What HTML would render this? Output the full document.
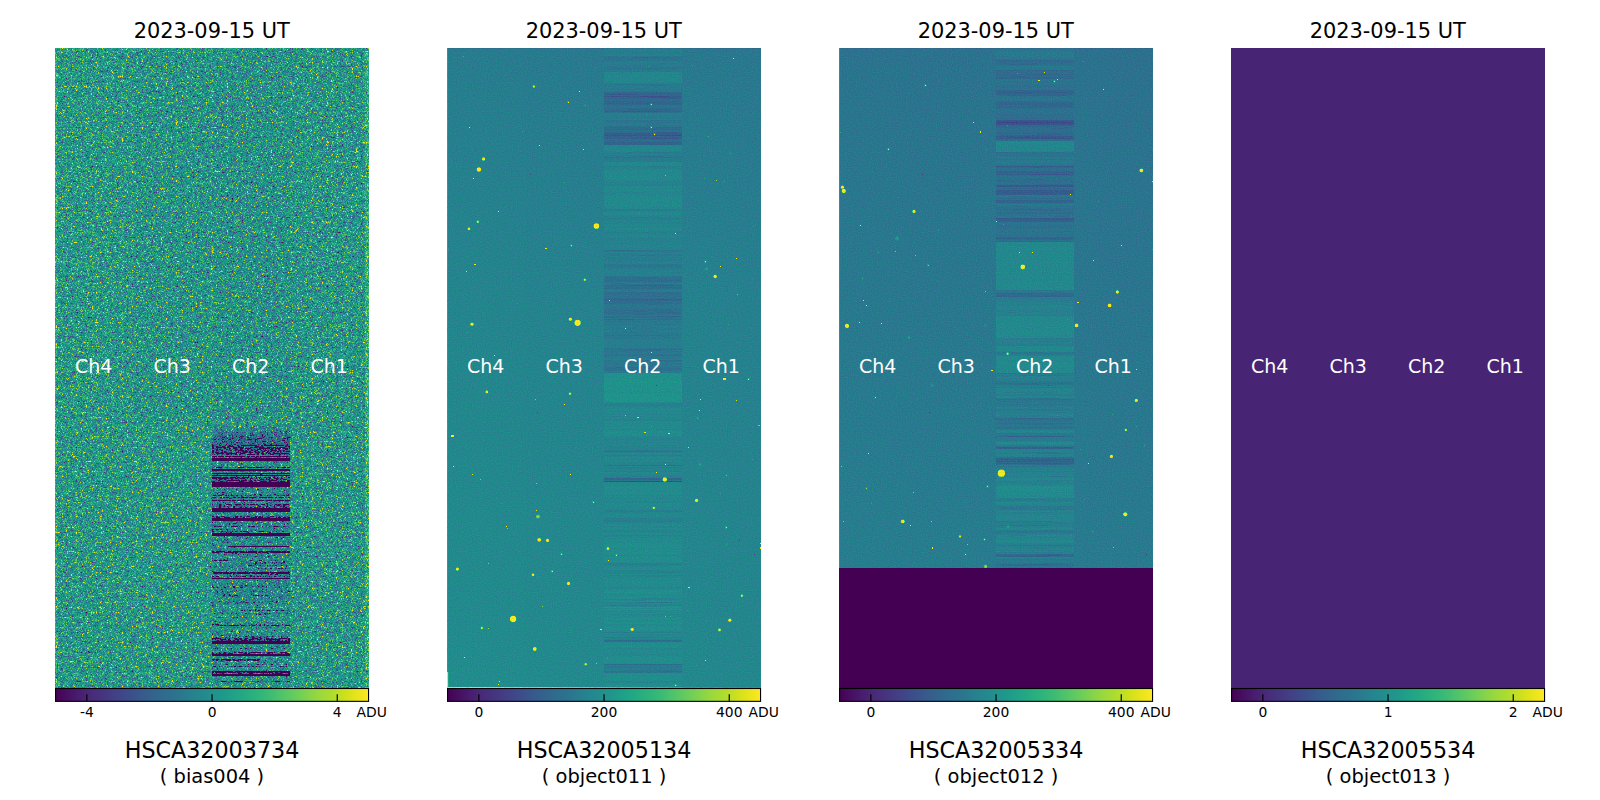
<!DOCTYPE html>
<html lang="en"><head><meta charset="utf-8"><title>HSC quick look</title>
<style>
html,body{margin:0;padding:0;background:#fff;overflow:hidden}
svg{display:block}
text{font-family:"DejaVu Sans","Liberation Sans",sans-serif;fill:#000}
.ti{font-size:20.9px;text-anchor:middle}
.ch{font-size:19px;text-anchor:middle;fill:#fff}
.tk{font-size:13.89px;text-anchor:middle}
.un{font-size:13.89px;text-anchor:start}
.l1{font-size:22.22px;text-anchor:middle}
.l2{font-size:19.44px;text-anchor:middle}
</style></head><body>
<svg width="1600" height="800" viewBox="0 0 1600 800">
<defs>
<filter id="f1" filterUnits="userSpaceOnUse" x="55" y="48" width="314" height="640" color-interpolation-filters="sRGB"><feTurbulence type="fractalNoise" baseFrequency="0.8" numOctaves="1" seed="7" result="t"/><feTurbulence type="fractalNoise" baseFrequency="0.42 0.86" numOctaves="1" seed="5" result="t2"/><feTurbulence type="fractalNoise" baseFrequency="0.41" numOctaves="1" seed="13" result="t3"/><feTurbulence type="fractalNoise" baseFrequency="0.2" numOctaves="1" seed="17" result="t4"/><feColorMatrix in="t" type="matrix" values="1 0 0 0 0  1 0 0 0 0  1 0 0 0 0  0 0 0 0 1" result="nA"/><feColorMatrix in="t3" type="matrix" values="1 0 0 0 0  1 0 0 0 0  1 0 0 0 0  0 0 0 0 1" result="nB"/><feColorMatrix in="t4" type="matrix" values="1 0 0 0 0  1 0 0 0 0  1 0 0 0 0  0 0 0 0 1" result="nC"/><feComposite in="nA" in2="nB" operator="arithmetic" k1="0" k2="1" k3="0.55" k4="-0.275" result="nAB"/><feComposite in="nAB" in2="nC" operator="arithmetic" k1="0" k2="1" k3="0.3" k4="-0.15" result="nv0"/><feComponentTransfer in="nv0" result="nv"><feFuncR type="table" tableValues="0.0000 0.0000 0.0000 0.0000 0.0040 0.0459 0.0857 0.1235 0.1595 0.1938 0.2266 0.2579 0.2880 0.3170 0.3449 0.3721 0.3985 0.4244 0.4498 0.4750 0.5000 0.5251 0.5506 0.5771 0.6050 0.6348 0.6669 0.7018 0.7400 0.7820 0.8281 0.8790 0.9350 0.9966 1.0000 1.0000 1.0000 1.0000 1.0000 1.0000 1.0000"/><feFuncG type="table" tableValues="0.0000 0.0000 0.0000 0.0000 0.0040 0.0459 0.0857 0.1235 0.1595 0.1938 0.2266 0.2579 0.2880 0.3170 0.3449 0.3721 0.3985 0.4244 0.4498 0.4750 0.5000 0.5251 0.5506 0.5771 0.6050 0.6348 0.6669 0.7018 0.7400 0.7820 0.8281 0.8790 0.9350 0.9966 1.0000 1.0000 1.0000 1.0000 1.0000 1.0000 1.0000"/><feFuncB type="table" tableValues="0.0000 0.0000 0.0000 0.0000 0.0040 0.0459 0.0857 0.1235 0.1595 0.1938 0.2266 0.2579 0.2880 0.3170 0.3449 0.3721 0.3985 0.4244 0.4498 0.4750 0.5000 0.5251 0.5506 0.5771 0.6050 0.6348 0.6669 0.7018 0.7400 0.7820 0.8281 0.8790 0.9350 0.9966 1.0000 1.0000 1.0000 1.0000 1.0000 1.0000 1.0000"/></feComponentTransfer><feColorMatrix in="t2" type="matrix" values="0 1 0 0 0  0 1 0 0 0  0 1 0 0 0  0 0 0 0 1" result="nm"/><feColorMatrix in="SourceGraphic" type="matrix" values="1 0 0 0 0  1 0 0 0 0  1 0 0 0 0  0 0 0 0 1" result="sv"/><feColorMatrix in="SourceGraphic" type="matrix" values="0 1 0 0 0  0 1 0 0 0  0 1 0 0 0  0 0 0 0 1" result="sm"/><feComposite in="sv" in2="nv" operator="arithmetic" k1="0" k2="2" k3="1.02" k4="-1.51" result="val"/><feComposite in="sm" in2="nm" operator="arithmetic" k1="0" k2="1" k3="1" k4="-1" result="a"/><feComponentTransfer in="a" result="nmask"><feFuncR type="linear" slope="-255" intercept="1"/><feFuncG type="linear" slope="-255" intercept="1"/><feFuncB type="linear" slope="-255" intercept="1"/></feComponentTransfer><feComposite in="val" in2="nmask" operator="arithmetic" k1="1" k2="0" k3="0" k4="0"/><feComponentTransfer><feFuncR type="table" tableValues="0.2670 0.2726 0.2770 0.2803 0.2823 0.2832 0.2829 0.2814 0.2788 0.2752 0.2706 0.2651 0.2590 0.2522 0.2450 0.2374 0.2297 0.2220 0.2143 0.2068 0.1994 0.1924 0.1856 0.1790 0.1727 0.1666 0.1607 0.1548 0.1490 0.1433 0.1378 0.1324 0.1276 0.1235 0.1206 0.1194 0.1206 0.1248 0.1323 0.1433 0.1579 0.1757 0.1966 0.2201 0.2461 0.2741 0.3041 0.3359 0.3692 0.4040 0.4401 0.4775 0.5160 0.5555 0.5958 0.6369 0.6785 0.7204 0.7624 0.8042 0.8456 0.8863 0.9261 0.9649 0.9932"/><feFuncG type="table" tableValues="0.0049 0.0256 0.0503 0.0734 0.0950 0.1157 0.1359 0.1558 0.1755 0.1949 0.2141 0.2330 0.2515 0.2698 0.2877 0.3052 0.3224 0.3392 0.3556 0.3718 0.3876 0.4032 0.4186 0.4338 0.4488 0.4637 0.4785 0.4933 0.5081 0.5228 0.5375 0.5522 0.5669 0.5817 0.5964 0.6111 0.6258 0.6405 0.6550 0.6695 0.6838 0.6979 0.7118 0.7255 0.7389 0.7520 0.7647 0.7770 0.7889 0.8003 0.8111 0.8214 0.8312 0.8403 0.8487 0.8565 0.8637 0.8703 0.8764 0.8820 0.8873 0.8924 0.8973 0.9023 0.9062"/><feFuncB type="table" tableValues="0.3294 0.3531 0.3757 0.3972 0.4173 0.4361 0.4534 0.4692 0.4834 0.4960 0.5071 0.5166 0.5247 0.5316 0.5373 0.5419 0.5457 0.5488 0.5512 0.5531 0.5546 0.5558 0.5568 0.5574 0.5579 0.5581 0.5581 0.5578 0.5573 0.5563 0.5549 0.5530 0.5506 0.5474 0.5436 0.5390 0.5335 0.5271 0.5197 0.5112 0.5017 0.4910 0.4792 0.4662 0.4520 0.4366 0.4199 0.4020 0.3829 0.3626 0.3410 0.3182 0.2943 0.2693 0.2433 0.2166 0.1895 0.1626 0.1371 0.1150 0.0997 0.0954 0.1041 0.1239 0.1439"/><feFuncA type="linear" slope="0" intercept="1"/></feComponentTransfer></filter>
<filter id="f2" filterUnits="userSpaceOnUse" x="447" y="48" width="314" height="640" color-interpolation-filters="sRGB"><feTurbulence type="fractalNoise" baseFrequency="0.8" numOctaves="1" seed="11"/><feColorMatrix type="matrix" values="1 0 0 0 0  1 0 0 0 0  1 0 0 0 0  0 0 0 0 1" result="n"/><feComposite in="SourceGraphic" in2="n" operator="arithmetic" k1="0" k2="1" k3="0.2" k4="-0.1"/><feComponentTransfer><feFuncR type="table" tableValues="0.2670 0.2726 0.2770 0.2803 0.2823 0.2832 0.2829 0.2814 0.2788 0.2752 0.2706 0.2651 0.2590 0.2522 0.2450 0.2374 0.2297 0.2220 0.2143 0.2068 0.1994 0.1924 0.1856 0.1790 0.1727 0.1666 0.1607 0.1548 0.1490 0.1433 0.1378 0.1324 0.1276 0.1235 0.1206 0.1194 0.1206 0.1248 0.1323 0.1433 0.1579 0.1757 0.1966 0.2201 0.2461 0.2741 0.3041 0.3359 0.3692 0.4040 0.4401 0.4775 0.5160 0.5555 0.5958 0.6369 0.6785 0.7204 0.7624 0.8042 0.8456 0.8863 0.9261 0.9649 0.9932"/><feFuncG type="table" tableValues="0.0049 0.0256 0.0503 0.0734 0.0950 0.1157 0.1359 0.1558 0.1755 0.1949 0.2141 0.2330 0.2515 0.2698 0.2877 0.3052 0.3224 0.3392 0.3556 0.3718 0.3876 0.4032 0.4186 0.4338 0.4488 0.4637 0.4785 0.4933 0.5081 0.5228 0.5375 0.5522 0.5669 0.5817 0.5964 0.6111 0.6258 0.6405 0.6550 0.6695 0.6838 0.6979 0.7118 0.7255 0.7389 0.7520 0.7647 0.7770 0.7889 0.8003 0.8111 0.8214 0.8312 0.8403 0.8487 0.8565 0.8637 0.8703 0.8764 0.8820 0.8873 0.8924 0.8973 0.9023 0.9062"/><feFuncB type="table" tableValues="0.3294 0.3531 0.3757 0.3972 0.4173 0.4361 0.4534 0.4692 0.4834 0.4960 0.5071 0.5166 0.5247 0.5316 0.5373 0.5419 0.5457 0.5488 0.5512 0.5531 0.5546 0.5558 0.5568 0.5574 0.5579 0.5581 0.5581 0.5578 0.5573 0.5563 0.5549 0.5530 0.5506 0.5474 0.5436 0.5390 0.5335 0.5271 0.5197 0.5112 0.5017 0.4910 0.4792 0.4662 0.4520 0.4366 0.4199 0.4020 0.3829 0.3626 0.3410 0.3182 0.2943 0.2693 0.2433 0.2166 0.1895 0.1626 0.1371 0.1150 0.0997 0.0954 0.1041 0.1239 0.1439"/><feFuncA type="linear" slope="0" intercept="1"/></feComponentTransfer></filter>
<filter id="f3" filterUnits="userSpaceOnUse" x="839" y="48" width="314" height="640" color-interpolation-filters="sRGB"><feTurbulence type="fractalNoise" baseFrequency="0.8" numOctaves="1" seed="23"/><feColorMatrix type="matrix" values="1 0 0 0 0  1 0 0 0 0  1 0 0 0 0  0 0 0 0 1" result="n"/><feComposite in="SourceGraphic" in2="n" operator="arithmetic" k1="0" k2="1" k3="0.2" k4="-0.1"/><feComponentTransfer><feFuncR type="table" tableValues="0.2670 0.2726 0.2770 0.2803 0.2823 0.2832 0.2829 0.2814 0.2788 0.2752 0.2706 0.2651 0.2590 0.2522 0.2450 0.2374 0.2297 0.2220 0.2143 0.2068 0.1994 0.1924 0.1856 0.1790 0.1727 0.1666 0.1607 0.1548 0.1490 0.1433 0.1378 0.1324 0.1276 0.1235 0.1206 0.1194 0.1206 0.1248 0.1323 0.1433 0.1579 0.1757 0.1966 0.2201 0.2461 0.2741 0.3041 0.3359 0.3692 0.4040 0.4401 0.4775 0.5160 0.5555 0.5958 0.6369 0.6785 0.7204 0.7624 0.8042 0.8456 0.8863 0.9261 0.9649 0.9932"/><feFuncG type="table" tableValues="0.0049 0.0256 0.0503 0.0734 0.0950 0.1157 0.1359 0.1558 0.1755 0.1949 0.2141 0.2330 0.2515 0.2698 0.2877 0.3052 0.3224 0.3392 0.3556 0.3718 0.3876 0.4032 0.4186 0.4338 0.4488 0.4637 0.4785 0.4933 0.5081 0.5228 0.5375 0.5522 0.5669 0.5817 0.5964 0.6111 0.6258 0.6405 0.6550 0.6695 0.6838 0.6979 0.7118 0.7255 0.7389 0.7520 0.7647 0.7770 0.7889 0.8003 0.8111 0.8214 0.8312 0.8403 0.8487 0.8565 0.8637 0.8703 0.8764 0.8820 0.8873 0.8924 0.8973 0.9023 0.9062"/><feFuncB type="table" tableValues="0.3294 0.3531 0.3757 0.3972 0.4173 0.4361 0.4534 0.4692 0.4834 0.4960 0.5071 0.5166 0.5247 0.5316 0.5373 0.5419 0.5457 0.5488 0.5512 0.5531 0.5546 0.5558 0.5568 0.5574 0.5579 0.5581 0.5581 0.5578 0.5573 0.5563 0.5549 0.5530 0.5506 0.5474 0.5436 0.5390 0.5335 0.5271 0.5197 0.5112 0.5017 0.4910 0.4792 0.4662 0.4520 0.4366 0.4199 0.4020 0.3829 0.3626 0.3410 0.3182 0.2943 0.2693 0.2433 0.2166 0.1895 0.1626 0.1371 0.1150 0.0997 0.0954 0.1041 0.1239 0.1439"/><feFuncA type="linear" slope="0" intercept="1"/></feComponentTransfer></filter>
<filter id="bl" x="-50%" y="-50%" width="200%" height="200%" color-interpolation-filters="sRGB"><feGaussianBlur stdDeviation="0.7"/></filter>
<linearGradient id="vg" x1="0" y1="0" x2="1" y2="0"><stop offset="0" stop-color="#440154"/><stop offset="0.03" stop-color="#470d60"/><stop offset="0.06" stop-color="#48186a"/><stop offset="0.09" stop-color="#482374"/><stop offset="0.12" stop-color="#472d7b"/><stop offset="0.16" stop-color="#453781"/><stop offset="0.19" stop-color="#424086"/><stop offset="0.22" stop-color="#3e4989"/><stop offset="0.25" stop-color="#3b528b"/><stop offset="0.28" stop-color="#375b8d"/><stop offset="0.31" stop-color="#33638d"/><stop offset="0.34" stop-color="#2f6b8e"/><stop offset="0.38" stop-color="#2c728e"/><stop offset="0.41" stop-color="#297a8e"/><stop offset="0.44" stop-color="#26828e"/><stop offset="0.47" stop-color="#23898e"/><stop offset="0.5" stop-color="#21918c"/><stop offset="0.53" stop-color="#1f988b"/><stop offset="0.56" stop-color="#1fa088"/><stop offset="0.59" stop-color="#22a785"/><stop offset="0.62" stop-color="#28ae80"/><stop offset="0.66" stop-color="#32b67a"/><stop offset="0.69" stop-color="#3fbc73"/><stop offset="0.72" stop-color="#4ec36b"/><stop offset="0.75" stop-color="#5ec962"/><stop offset="0.78" stop-color="#70cf57"/><stop offset="0.81" stop-color="#84d44b"/><stop offset="0.84" stop-color="#98d83e"/><stop offset="0.88" stop-color="#addc30"/><stop offset="0.91" stop-color="#c2df23"/><stop offset="0.94" stop-color="#d8e219"/><stop offset="0.97" stop-color="#ece51b"/><stop offset="1" stop-color="#fde725"/></linearGradient>
<linearGradient id="g2" x1="0" y1="0" x2="0" y2="1"><stop offset="0" stop-color="#696969"/><stop offset="0.12" stop-color="#6c6c6c"/><stop offset="0.25" stop-color="#6f6f6f"/><stop offset="0.38" stop-color="#727272"/><stop offset="0.5" stop-color="#747474"/><stop offset="0.62" stop-color="#757575"/><stop offset="0.75" stop-color="#777777"/><stop offset="0.88" stop-color="#787878"/><stop offset="1" stop-color="#7a7a7a"/></linearGradient>
<linearGradient id="g3" x1="0" y1="0" x2="0" y2="1"><stop offset="0" stop-color="#616161"/><stop offset="0.12" stop-color="#636363"/><stop offset="0.25" stop-color="#656565"/><stop offset="0.38" stop-color="#666666"/><stop offset="0.5" stop-color="#686868"/><stop offset="0.62" stop-color="#696969"/><stop offset="0.75" stop-color="#6b6b6b"/><stop offset="0.88" stop-color="#6c6c6c"/><stop offset="1" stop-color="#6e6e6e"/></linearGradient>
<linearGradient id="hx" x1="0" y1="0" x2="1" y2="0"><stop offset="0" stop-color="#000" stop-opacity="0"/><stop offset="1" stop-color="#000" stop-opacity="1"/></linearGradient>
<linearGradient id="brow" x1="0" y1="0" x2="1" y2="0"><stop offset="0" stop-color="#fff"/><stop offset="0.3" stop-color="#e6e6e6"/><stop offset="0.6" stop-color="#c0c0c0"/><stop offset="0.8" stop-color="#a0a0a0"/><stop offset="1" stop-color="#909090"/></linearGradient>
</defs>
<g filter="url(#f1)">
<rect x="55" y="48" width="314" height="640" fill="#c30000"/>
<rect x="55" y="48" width="2" height="640" fill="#cc0000"/><rect x="365" y="48" width="4" height="640" fill="#cf0000"/><rect x="211" y="48" width="1.5" height="372" fill="#cc0000"/><rect x="133.5" y="48" width="78" height="372" fill="#c10000"/><rect x="212.5" y="48" width="77.5" height="372" fill="#c00000"/><rect x="290" y="48" width="75" height="640" fill="#c20000"/>
<rect x="212" y="424" width="78" height="1" fill="#c22500"/><rect x="212" y="425" width="78" height="1" fill="#c13300"/><rect x="212" y="426" width="78" height="1" fill="#bf3a00"/><rect x="212" y="427" width="78" height="1" fill="#bd3f00"/><rect x="212" y="428" width="78" height="1" fill="#bb4300"/><rect x="212" y="429" width="78" height="1" fill="#ba4600"/><rect x="212" y="430" width="78" height="1" fill="#b84900"/><rect x="212" y="431" width="78" height="1" fill="#b64c00"/><rect x="212" y="432" width="78" height="1" fill="#b54e00"/><rect x="212" y="433" width="78" height="1" fill="#b35000"/><rect x="212" y="434" width="78" height="1" fill="#b15200"/><rect x="212" y="435" width="78" height="1" fill="#b05400"/><rect x="212" y="436" width="78" height="1" fill="#ae5600"/><rect x="212" y="437" width="78" height="1" fill="#ac5700"/><rect x="212" y="438" width="78" height="1" fill="#aa5900"/><rect x="212" y="439" width="78" height="1" fill="#aa5a00"/><rect x="212" y="440" width="78" height="1" fill="#aa5c00"/><rect x="212" y="441" width="78" height="1" fill="#aa5d00"/><rect x="212" y="442" width="78" height="1" fill="#aa5f00"/><rect x="212" y="443" width="78" height="1" fill="#aa6000"/><rect x="212" y="444" width="78" height="1" fill="#aa6100"/>
<rect x="212" y="445" width="78" height="160" fill="#bb4400"/><rect x="212" y="605" width="78" height="75" fill="#bf3900"/><rect x="212" y="452" width="78" height="1" fill="#b86200"/><rect x="217" y="454" width="49" height="1" fill="#b85c00"/><rect x="212" y="457" width="78" height="1" fill="#b85c00"/><rect x="212" y="460" width="78" height="1" fill="#b84c00"/><rect x="227" y="461" width="53" height="1" fill="#b84c00"/><rect x="249" y="462" width="41" height="1" fill="#b85c00"/><rect x="212" y="463" width="78" height="1" fill="#b85200"/><rect x="212" y="467" width="78" height="1" fill="#b86200"/><rect x="212" y="470" width="78" height="1" fill="#b85200"/><rect x="212" y="471" width="78" height="1" fill="#b86200"/><rect x="212" y="477" width="78" height="1" fill="#b85200"/><rect x="212" y="478" width="78" height="1" fill="#b85c00"/><rect x="255" y="480" width="23" height="1" fill="#b86800"/><rect x="212" y="482" width="78" height="1" fill="#b84c00"/><rect x="212" y="484" width="78" height="1" fill="#b85200"/><rect x="212" y="485" width="78" height="1" fill="#b85c00"/><rect x="244" y="486" width="27" height="1" fill="#b86200"/><rect x="213" y="493" width="28" height="1" fill="#b86200"/><rect x="212" y="494" width="78" height="1" fill="#b86200"/><rect x="228" y="495" width="15" height="1" fill="#b85200"/><rect x="216" y="497" width="20" height="1" fill="#b85700"/><rect x="250" y="498" width="26" height="1" fill="#b86800"/><rect x="226" y="505" width="54" height="1" fill="#b85200"/><rect x="252" y="506" width="32" height="1" fill="#b85200"/><rect x="212" y="507" width="78" height="1" fill="#b85c00"/><rect x="212" y="510" width="78" height="1" fill="#b84c00"/><rect x="212" y="511" width="78" height="1" fill="#b86800"/><rect x="212" y="512" width="78" height="1" fill="#b86200"/><rect x="212" y="516" width="78" height="1" fill="#b85c00"/><rect x="212" y="519" width="78" height="1" fill="#b85200"/><rect x="212" y="520" width="78" height="1" fill="#b85c00"/><rect x="245" y="521" width="33" height="1" fill="#b85200"/><rect x="212" y="523" width="78" height="1" fill="#b85200"/><rect x="212" y="528" width="78" height="1" fill="#b84c00"/><rect x="252" y="531" width="17" height="1" fill="#b84c00"/><rect x="246" y="534" width="26" height="1" fill="#b84c00"/><rect x="228" y="553" width="41" height="1" fill="#b86800"/><rect x="250" y="560" width="17" height="1" fill="#b86200"/><rect x="251" y="562" width="36" height="1" fill="#b86800"/><rect x="221" y="564" width="58" height="1" fill="#b84c00"/><rect x="212" y="571" width="78" height="1" fill="#b85c00"/><rect x="212" y="572" width="78" height="1" fill="#b85c00"/><rect x="249" y="574" width="25" height="1" fill="#b85200"/><rect x="212" y="575" width="78" height="1" fill="#b85200"/><rect x="242" y="580" width="32" height="1" fill="#b85200"/><rect x="250" y="589" width="16" height="1" fill="#b84c00"/><rect x="248" y="591" width="15" height="1" fill="#b85700"/><rect x="221" y="594" width="65" height="1" fill="#b85700"/><rect x="218" y="595" width="55" height="1" fill="#b86800"/><rect x="242" y="599" width="31" height="1" fill="#b85200"/><rect x="212" y="601" width="78" height="1" fill="#b85c00"/><rect x="234" y="602" width="49" height="1" fill="#b85200"/><rect x="240" y="610" width="44" height="1" fill="#b86800"/><rect x="212" y="613" width="78" height="1" fill="#b86200"/><rect x="212" y="624" width="78" height="1" fill="#b85c00"/><rect x="238" y="632" width="32" height="1" fill="#b85c00"/><rect x="212" y="634" width="78" height="1" fill="#b84c00"/><rect x="220" y="635" width="45" height="1" fill="#b86200"/><rect x="212" y="636" width="78" height="1" fill="#b86200"/><rect x="212" y="648" width="78" height="1" fill="#b86200"/><rect x="212" y="654" width="78" height="1" fill="#b85200"/><rect x="212" y="657" width="63" height="1" fill="#b86200"/><rect x="212" y="658" width="78" height="1" fill="#b84c00"/><rect x="212" y="664" width="78" height="1" fill="#b86200"/><rect x="239" y="668" width="45" height="1" fill="#b85c00"/><rect x="212" y="670" width="78" height="1" fill="#b85c00"/><rect x="221" y="672" width="29" height="1" fill="#b84c00"/><rect x="234" y="673" width="30" height="1" fill="#b85700"/><rect x="212" y="675" width="78" height="1" fill="#b86800"/><rect x="212" y="681" width="78" height="1" fill="#b86800"/>
<rect x="212" y="445" width="78" height="10" fill="#ae7f00" shape-rendering="crispEdges"/><rect x="212" y="455.5" width="78" height="1" fill="#a79700" shape-rendering="crispEdges"/><rect x="212" y="456.5" width="78" height="1.5" fill="#b26600" shape-rendering="crispEdges"/><rect x="212" y="458" width="78" height="2.5" fill="#a6ff00" shape-rendering="crispEdges"/><rect x="212" y="460.5" width="78" height="6" fill="#be3f00" shape-rendering="crispEdges"/><rect x="212" y="466.5" width="78" height="1.5" fill="#af7900" shape-rendering="crispEdges"/><rect x="212" y="468.5" width="78" height="2" fill="#a6ff00" shape-rendering="crispEdges"/><rect x="212" y="470.5" width="78" height="2" fill="#ba4c00" shape-rendering="crispEdges"/><rect x="212" y="472.5" width="78" height="1" fill="#a6ff00" shape-rendering="crispEdges"/><rect x="212" y="473.5" width="78" height="1" fill="#ba4c00" shape-rendering="crispEdges"/><rect x="212" y="474.5" width="78" height="1" fill="#a6ff00" shape-rendering="crispEdges"/><rect x="212" y="475.5" width="78" height="1.5" fill="#b85500" shape-rendering="crispEdges"/><rect x="212" y="477" width="35" height="1.5" fill="#a79700" shape-rendering="crispEdges"/><rect x="247" y="477" width="43" height="1.5" fill="#af7900" shape-rendering="crispEdges"/><rect x="212" y="479" width="78" height="2.5" fill="#af7900" shape-rendering="crispEdges"/><rect x="212" y="482" width="78" height="5" fill="#a6ff00" shape-rendering="crispEdges"/><rect x="212" y="494.5" width="78" height="1" fill="#b06f00" shape-rendering="crispEdges"/><rect x="212" y="497" width="78" height="1" fill="#ad8300" shape-rendering="crispEdges"/><rect x="212" y="498" width="78" height="2" fill="#ba4c00" shape-rendering="crispEdges"/><rect x="212" y="500" width="78" height="1" fill="#a6a300" shape-rendering="crispEdges"/><rect x="212" y="501" width="78" height="3" fill="#ba4c00" shape-rendering="crispEdges"/><rect x="212" y="504" width="78" height="3.5" fill="#af7400" shape-rendering="crispEdges"/><rect x="212" y="507.5" width="78" height="4" fill="#a6ff00" shape-rendering="crispEdges"/><rect x="212" y="512" width="78" height="3.5" fill="#be3f00" shape-rendering="crispEdges"/><rect x="212" y="515.5" width="78" height="2" fill="#af7900" shape-rendering="crispEdges"/><rect x="212" y="517.5" width="78" height="3.5" fill="#a6ff00" shape-rendering="crispEdges"/><rect x="212" y="526" width="78" height="1" fill="#b06f00" shape-rendering="crispEdges"/><rect x="212" y="529" width="24" height="0.7" fill="#af7900" shape-rendering="crispEdges"/><rect x="212" y="531.3" width="78" height="0.7" fill="#b06f00" shape-rendering="crispEdges"/><rect x="212" y="533" width="78" height="3" fill="#a6ff00" shape-rendering="crispEdges"/><rect x="228" y="546" width="61" height="1" fill="#a6ff00" shape-rendering="crispEdges"/><rect x="212" y="551" width="78" height="1.5" fill="#a6a000" shape-rendering="crispEdges"/><rect x="212" y="560" width="20" height="1" fill="#a99100" shape-rendering="crispEdges"/><rect x="250" y="563" width="40" height="0.6" fill="#b06f00" shape-rendering="crispEdges"/><rect x="246" y="565" width="44" height="0.6" fill="#b06f00" shape-rendering="crispEdges"/><rect x="258" y="568.3" width="32" height="0.7" fill="#af7900" shape-rendering="crispEdges"/><rect x="212" y="572.4" width="78" height="1.2" fill="#a6a000" shape-rendering="crispEdges"/><rect x="212" y="574" width="78" height="2" fill="#b85500" shape-rendering="crispEdges"/><rect x="212" y="576" width="78" height="1" fill="#b06f00" shape-rendering="crispEdges"/><rect x="212" y="578" width="78" height="1" fill="#a6ff00" shape-rendering="crispEdges"/><rect x="212" y="585" width="78" height="3" fill="#b55f00" shape-rendering="crispEdges"/><rect x="212" y="591" width="78" height="1" fill="#b26600" shape-rendering="crispEdges"/><rect x="255" y="614" width="13" height="0.7" fill="#af7900" shape-rendering="crispEdges"/><rect x="212" y="624.5" width="78" height="1" fill="#ad8300" shape-rendering="crispEdges"/><rect x="212" y="637" width="78" height="1" fill="#b55c00" shape-rendering="crispEdges"/><rect x="212" y="638" width="78" height="3" fill="#ad8100" shape-rendering="crispEdges"/><rect x="212" y="641" width="78" height="3" fill="#a6ff00" shape-rendering="crispEdges"/><rect x="212" y="652" width="78" height="2" fill="#af7900" shape-rendering="crispEdges"/><rect x="212" y="654" width="78" height="2" fill="#a6ff00" shape-rendering="crispEdges"/><rect x="212" y="656" width="78" height="3" fill="#be3f00" shape-rendering="crispEdges"/><rect x="212" y="659" width="48" height="1.5" fill="#ab8a00" shape-rendering="crispEdges"/><rect x="212" y="666" width="78" height="1" fill="#b06f00" shape-rendering="crispEdges"/><rect x="212" y="668" width="78" height="3" fill="#be3f00" shape-rendering="crispEdges"/><rect x="212" y="671" width="78" height="1.5" fill="#a6a000" shape-rendering="crispEdges"/><rect x="212" y="672.5" width="78" height="1" fill="#b26600" shape-rendering="crispEdges"/><rect x="212" y="673.5" width="78" height="2.5" fill="#a6ff00" shape-rendering="crispEdges"/>
</g>
<g filter="url(#f2)">
<rect x="447" y="48" width="314" height="640" fill="url(#g2)"/>
<rect x="447" y="48" width="314" height="640" fill="url(#hx)" opacity="0.035"/>
<rect x="447" y="48" width="78.5" height="640" fill="#fff" opacity="0.01"/><rect x="604" y="48" width="78" height="1" fill="#6c6c6c"/><rect x="604" y="49" width="78" height="1" fill="#6a6a6a"/><rect x="604" y="50" width="78" height="1" fill="#6e6e6e"/><rect x="604" y="51" width="78" height="1" fill="#696969"/><rect x="604" y="52" width="78" height="1" fill="#6b6b6b"/><rect x="604" y="53" width="78" height="1" fill="#686868"/><rect x="604" y="54" width="78" height="1" fill="#6e6e6e"/><rect x="604" y="55" width="78" height="1" fill="#6e6e6e"/><rect x="604" y="56" width="78" height="1" fill="#646464"/><rect x="604" y="57" width="78" height="1" fill="#5e5e5e"/><rect x="634" y="57" width="25" height="1" fill="#565656"/><rect x="604" y="58" width="78" height="1" fill="#616161"/><rect x="604" y="59" width="78" height="1" fill="#616161"/><rect x="604" y="60" width="78" height="1" fill="#636363"/><rect x="604" y="61" width="78" height="1" fill="#696969"/><rect x="604" y="62" width="78" height="1" fill="#6a6a6a"/><rect x="604" y="63" width="78" height="1" fill="#696969"/><rect x="659" y="63" width="10" height="1" fill="#646464"/><rect x="604" y="64" width="78" height="1" fill="#686868"/><rect x="604" y="65" width="78" height="1" fill="#6e6e6e"/><rect x="616" y="65" width="44" height="1" fill="#656565"/><rect x="604" y="66" width="78" height="1" fill="#676767"/><rect x="604" y="67" width="78" height="1" fill="#646464"/><rect x="661" y="67" width="16" height="1" fill="#5f5f5f"/><rect x="604" y="68" width="78" height="1" fill="#626262"/><rect x="608" y="68" width="52" height="1" fill="#5d5d5d"/><rect x="604" y="69" width="78" height="1" fill="#656565"/><rect x="604" y="70" width="78" height="1" fill="#696969"/><rect x="604" y="71" width="78" height="1" fill="#666666"/><rect x="604" y="72" width="78" height="1" fill="#757575"/><rect x="604" y="73" width="78" height="1" fill="#747474"/><rect x="604" y="74" width="78" height="1" fill="#737373"/><rect x="604" y="75" width="78" height="1" fill="#757575"/><rect x="604" y="76" width="78" height="1" fill="#757575"/><rect x="604" y="77" width="78" height="1" fill="#747474"/><rect x="604" y="78" width="78" height="1" fill="#757575"/><rect x="604" y="79" width="78" height="1" fill="#757575"/><rect x="604" y="80" width="78" height="1" fill="#757575"/><rect x="604" y="81" width="78" height="1" fill="#727272"/><rect x="604" y="82" width="78" height="1" fill="#757575"/><rect x="604" y="83" width="78" height="1" fill="#696969"/><rect x="604" y="84" width="78" height="1" fill="#686868"/><rect x="615" y="84" width="49" height="1" fill="#616161"/><rect x="604" y="85" width="78" height="1" fill="#686868"/><rect x="652" y="85" width="17" height="1" fill="#616161"/><rect x="604" y="86" width="78" height="1" fill="#6a6a6a"/><rect x="604" y="87" width="78" height="1" fill="#686868"/><rect x="604" y="88" width="78" height="1" fill="#686868"/><rect x="604" y="89" width="78" height="1" fill="#666666"/><rect x="604" y="90" width="78" height="1" fill="#686868"/><rect x="604" y="91" width="78" height="1" fill="#676767"/><rect x="625" y="91" width="42" height="1" fill="#626262"/><rect x="604" y="92" width="78" height="1" fill="#565656"/><rect x="604" y="93" width="78" height="1" fill="#535353"/><rect x="604" y="94" width="78" height="1" fill="#515151"/><rect x="609" y="94" width="29" height="1" fill="#464646"/><rect x="604" y="95" width="78" height="1" fill="#565656"/><rect x="604" y="96" width="78" height="1" fill="#4a4a4a"/><rect x="642" y="96" width="27" height="1" fill="#3d3d3d"/><rect x="604" y="97" width="78" height="1" fill="#505050"/><rect x="651" y="97" width="29" height="1" fill="#494949"/><rect x="604" y="98" width="78" height="1" fill="#525252"/><rect x="662" y="98" width="20" height="1" fill="#4d4d4d"/><rect x="604" y="99" width="78" height="1" fill="#595959"/><rect x="604" y="100" width="78" height="1" fill="#585858"/><rect x="604" y="101" width="78" height="1" fill="#545454"/><rect x="604" y="102" width="78" height="1" fill="#545454"/><rect x="631" y="102" width="33" height="1" fill="#4f4f4f"/><rect x="604" y="103" width="78" height="1" fill="#505050"/><rect x="604" y="104" width="78" height="1" fill="#545454"/><rect x="604" y="105" width="78" height="1" fill="#5e5e5e"/><rect x="604" y="106" width="78" height="1" fill="#616161"/><rect x="604" y="107" width="78" height="1" fill="#5e5e5e"/><rect x="604" y="108" width="78" height="1" fill="#595959"/><rect x="604" y="109" width="78" height="1" fill="#5b5b5b"/><rect x="628" y="109" width="44" height="1" fill="#505050"/><rect x="604" y="110" width="78" height="1" fill="#565656"/><rect x="604" y="111" width="78" height="1" fill="#545454"/><rect x="621" y="111" width="42" height="1" fill="#4a4a4a"/><rect x="604" y="112" width="78" height="1" fill="#5c5c5c"/><rect x="604" y="113" width="78" height="1" fill="#6c6c6c"/><rect x="604" y="114" width="78" height="1" fill="#6e6e6e"/><rect x="604" y="115" width="78" height="1" fill="#6a6a6a"/><rect x="604" y="116" width="78" height="1" fill="#6a6a6a"/><rect x="604" y="117" width="78" height="1" fill="#686868"/><rect x="604" y="118" width="78" height="1" fill="#696969"/><rect x="604" y="119" width="78" height="1" fill="#6f6f6f"/><rect x="604" y="120" width="78" height="1" fill="#606060"/><rect x="604" y="121" width="78" height="1" fill="#656565"/><rect x="604" y="122" width="78" height="1" fill="#616161"/><rect x="604" y="123" width="78" height="1" fill="#696969"/><rect x="604" y="124" width="78" height="1" fill="#6a6a6a"/><rect x="646" y="124" width="18" height="1" fill="#626262"/><rect x="604" y="125" width="78" height="1" fill="#666666"/><rect x="604" y="126" width="78" height="1" fill="#5f5f5f"/><rect x="604" y="127" width="78" height="1" fill="#575757"/><rect x="604" y="128" width="78" height="1" fill="#5b5b5b"/><rect x="604" y="129" width="78" height="1" fill="#525252"/><rect x="604" y="130" width="78" height="1" fill="#616161"/><rect x="604" y="131" width="78" height="1" fill="#5a5a5a"/><rect x="604" y="132" width="78" height="1" fill="#565656"/><rect x="657" y="132" width="21" height="1" fill="#4b4b4b"/><rect x="604" y="133" width="78" height="1" fill="#4b4b4b"/><rect x="604" y="134" width="78" height="1" fill="#4b4b4b"/><rect x="604" y="135" width="78" height="1" fill="#444444"/><rect x="653" y="135" width="28" height="1" fill="#3d3d3d"/><rect x="604" y="136" width="78" height="1" fill="#505050"/><rect x="604" y="137" width="78" height="1" fill="#4f4f4f"/><rect x="604" y="138" width="78" height="1" fill="#4e4e4e"/><rect x="641" y="138" width="38" height="1" fill="#454545"/><rect x="604" y="139" width="78" height="1" fill="#5c5c5c"/><rect x="652" y="139" width="15" height="1" fill="#535353"/><rect x="604" y="140" width="78" height="1" fill="#5b5b5b"/><rect x="607" y="140" width="27" height="1" fill="#565656"/><rect x="604" y="141" width="78" height="1" fill="#585858"/><rect x="604" y="142" width="78" height="1" fill="#4f4f4f"/><rect x="604" y="143" width="78" height="1" fill="#525252"/><rect x="604" y="144" width="78" height="1" fill="#515151"/><rect x="649" y="144" width="21" height="1" fill="#4d4d4d"/><rect x="604" y="145" width="78" height="1" fill="#747474"/><rect x="604" y="146" width="78" height="1" fill="#737373"/><rect x="604" y="147" width="78" height="1" fill="#757575"/><rect x="604" y="148" width="78" height="1" fill="#747474"/><rect x="604" y="149" width="78" height="1" fill="#757575"/><rect x="604" y="150" width="78" height="1" fill="#757575"/><rect x="604" y="151" width="78" height="1" fill="#747474"/><rect x="604" y="152" width="78" height="1" fill="#6b6b6b"/><rect x="638" y="152" width="42" height="1" fill="#646464"/><rect x="604" y="153" width="78" height="1" fill="#6a6a6a"/><rect x="604" y="154" width="78" height="1" fill="#6f6f6f"/><rect x="604" y="155" width="78" height="1" fill="#6a6a6a"/><rect x="604" y="156" width="78" height="1" fill="#666666"/><rect x="642" y="156" width="22" height="1" fill="#5d5d5d"/><rect x="604" y="157" width="78" height="1" fill="#626262"/><rect x="604" y="158" width="78" height="1" fill="#6b6b6b"/><rect x="604" y="159" width="78" height="1" fill="#686868"/><rect x="604" y="160" width="78" height="1" fill="#6a6a6a"/><rect x="604" y="161" width="78" height="1" fill="#696969"/><rect x="604" y="162" width="78" height="1" fill="#767676"/><rect x="604" y="163" width="78" height="1" fill="#777777"/><rect x="604" y="164" width="78" height="1" fill="#777777"/><rect x="604" y="165" width="78" height="1" fill="#767676"/><rect x="604" y="166" width="78" height="1" fill="#6d6d6d"/><rect x="649" y="166" width="22" height="1" fill="#686868"/><rect x="604" y="167" width="78" height="1" fill="#6f6f6f"/><rect x="604" y="168" width="78" height="1" fill="#717171"/><rect x="604" y="169" width="78" height="1" fill="#737373"/><rect x="604" y="170" width="78" height="1" fill="#777777"/><rect x="604" y="171" width="78" height="1" fill="#777777"/><rect x="604" y="172" width="78" height="1" fill="#777777"/><rect x="604" y="173" width="78" height="1" fill="#767676"/><rect x="604" y="174" width="78" height="1" fill="#777777"/><rect x="604" y="175" width="78" height="1" fill="#767676"/><rect x="604" y="176" width="78" height="1" fill="#787878"/><rect x="604" y="177" width="78" height="1" fill="#777777"/><rect x="604" y="178" width="78" height="1" fill="#787878"/><rect x="604" y="179" width="78" height="1" fill="#777777"/><rect x="604" y="180" width="78" height="1" fill="#737373"/><rect x="604" y="181" width="78" height="1" fill="#727272"/><rect x="604" y="182" width="78" height="1" fill="#6f6f6f"/><rect x="604" y="183" width="78" height="1" fill="#727272"/><rect x="604" y="184" width="78" height="1" fill="#6f6f6f"/><rect x="604" y="185" width="78" height="1" fill="#6f6f6f"/><rect x="604" y="186" width="78" height="1" fill="#777777"/><rect x="604" y="187" width="78" height="1" fill="#777777"/><rect x="604" y="188" width="78" height="1" fill="#747474"/><rect x="604" y="189" width="78" height="1" fill="#767676"/><rect x="604" y="190" width="78" height="1" fill="#777777"/><rect x="604" y="191" width="78" height="1" fill="#767676"/><rect x="604" y="192" width="78" height="1" fill="#717171"/><rect x="604" y="193" width="78" height="1" fill="#757575"/><rect x="604" y="194" width="78" height="1" fill="#737373"/><rect x="604" y="195" width="78" height="1" fill="#757575"/><rect x="604" y="196" width="78" height="1" fill="#797979"/><rect x="604" y="197" width="78" height="1" fill="#767676"/><rect x="604" y="198" width="78" height="1" fill="#787878"/><rect x="604" y="199" width="78" height="1" fill="#787878"/><rect x="604" y="200" width="78" height="1" fill="#787878"/><rect x="604" y="201" width="78" height="1" fill="#7a7a7a"/><rect x="604" y="202" width="78" height="1" fill="#777777"/><rect x="604" y="203" width="78" height="1" fill="#767676"/><rect x="604" y="204" width="78" height="1" fill="#797979"/><rect x="604" y="205" width="78" height="1" fill="#797979"/><rect x="604" y="206" width="78" height="1" fill="#777777"/><rect x="604" y="207" width="78" height="1" fill="#757575"/><rect x="604" y="208" width="78" height="1" fill="#777777"/><rect x="604" y="209" width="78" height="1" fill="#6b6b6b"/><rect x="604" y="210" width="78" height="1" fill="#6b6b6b"/><rect x="604" y="211" width="78" height="1" fill="#737373"/><rect x="604" y="212" width="78" height="1" fill="#757575"/><rect x="604" y="213" width="78" height="1" fill="#777777"/><rect x="604" y="214" width="78" height="1" fill="#777777"/><rect x="604" y="215" width="78" height="1" fill="#737373"/><rect x="604" y="216" width="78" height="1" fill="#717171"/><rect x="604" y="217" width="78" height="1" fill="#6c6c6c"/><rect x="604" y="218" width="78" height="1" fill="#6d6d6d"/><rect x="604" y="219" width="78" height="1" fill="#6c6c6c"/><rect x="604" y="220" width="78" height="1" fill="#737373"/><rect x="604" y="221" width="78" height="1" fill="#717171"/><rect x="604" y="222" width="78" height="1" fill="#717171"/><rect x="604" y="223" width="78" height="1" fill="#6f6f6f"/><rect x="604" y="224" width="78" height="1" fill="#757575"/><rect x="604" y="225" width="78" height="1" fill="#737373"/><rect x="604" y="226" width="78" height="1" fill="#747474"/><rect x="604" y="227" width="78" height="1" fill="#727272"/><rect x="604" y="228" width="78" height="1" fill="#787878"/><rect x="604" y="229" width="78" height="1" fill="#777777"/><rect x="604" y="230" width="78" height="1" fill="#737373"/><rect x="604" y="231" width="78" height="1" fill="#727272"/><rect x="604" y="232" width="78" height="1" fill="#6c6c6c"/><rect x="604" y="233" width="78" height="1" fill="#6f6f6f"/><rect x="604" y="234" width="78" height="1" fill="#727272"/><rect x="604" y="235" width="78" height="1" fill="#737373"/><rect x="604" y="236" width="78" height="1" fill="#757575"/><rect x="604" y="237" width="78" height="1" fill="#707070"/><rect x="604" y="238" width="78" height="1" fill="#6d6d6d"/><rect x="604" y="239" width="78" height="1" fill="#6e6e6e"/><rect x="604" y="240" width="78" height="1" fill="#6f6f6f"/><rect x="604" y="241" width="78" height="1" fill="#707070"/><rect x="604" y="242" width="78" height="1" fill="#707070"/><rect x="604" y="243" width="78" height="1" fill="#6e6e6e"/><rect x="604" y="244" width="78" height="1" fill="#717171"/><rect x="604" y="245" width="78" height="1" fill="#717171"/><rect x="604" y="246" width="78" height="1" fill="#737373"/><rect x="604" y="247" width="78" height="1" fill="#717171"/><rect x="604" y="248" width="78" height="1" fill="#707070"/><rect x="604" y="249" width="78" height="1" fill="#717171"/><rect x="604" y="250" width="78" height="1" fill="#616161"/><rect x="611" y="250" width="24" height="1" fill="#585858"/><rect x="604" y="251" width="78" height="1" fill="#676767"/><rect x="604" y="252" width="78" height="1" fill="#6d6d6d"/><rect x="604" y="253" width="78" height="1" fill="#6e6e6e"/><rect x="604" y="254" width="78" height="1" fill="#696969"/><rect x="655" y="254" width="15" height="1" fill="#646464"/><rect x="604" y="255" width="78" height="1" fill="#696969"/><rect x="639" y="255" width="16" height="1" fill="#606060"/><rect x="604" y="256" width="78" height="1" fill="#6d6d6d"/><rect x="604" y="257" width="78" height="1" fill="#6b6b6b"/><rect x="604" y="258" width="78" height="1" fill="#6a6a6a"/><rect x="604" y="259" width="78" height="1" fill="#6b6b6b"/><rect x="604" y="260" width="78" height="1" fill="#686868"/><rect x="604" y="261" width="78" height="1" fill="#6d6d6d"/><rect x="604" y="262" width="78" height="1" fill="#6e6e6e"/><rect x="604" y="263" width="78" height="1" fill="#6e6e6e"/><rect x="604" y="264" width="78" height="1" fill="#656565"/><rect x="604" y="265" width="78" height="1" fill="#616161"/><rect x="604" y="266" width="78" height="1" fill="#666666"/><rect x="640" y="266" width="42" height="1" fill="#626262"/><rect x="604" y="267" width="78" height="1" fill="#656565"/><rect x="604" y="268" width="78" height="1" fill="#6a6a6a"/><rect x="604" y="269" width="78" height="1" fill="#6b6b6b"/><rect x="604" y="270" width="78" height="1" fill="#6e6e6e"/><rect x="604" y="271" width="78" height="1" fill="#6e6e6e"/><rect x="604" y="272" width="78" height="1" fill="#6e6e6e"/><rect x="604" y="273" width="78" height="1" fill="#6c6c6c"/><rect x="604" y="274" width="78" height="1" fill="#707070"/><rect x="604" y="275" width="78" height="1" fill="#6e6e6e"/><rect x="604" y="276" width="78" height="1" fill="#646464"/><rect x="604" y="277" width="78" height="1" fill="#5f5f5f"/><rect x="605" y="277" width="53" height="1" fill="#5a5a5a"/><rect x="604" y="278" width="78" height="1" fill="#5e5e5e"/><rect x="642" y="278" width="24" height="1" fill="#595959"/><rect x="604" y="279" width="78" height="1" fill="#5d5d5d"/><rect x="604" y="280" width="78" height="1" fill="#595959"/><rect x="604" y="281" width="78" height="1" fill="#5e5e5e"/><rect x="650" y="281" width="22" height="1" fill="#5a5a5a"/><rect x="604" y="282" width="78" height="1" fill="#656565"/><rect x="604" y="283" width="78" height="1" fill="#6a6a6a"/><rect x="611" y="283" width="15" height="1" fill="#5e5e5e"/><rect x="604" y="284" width="78" height="1" fill="#626262"/><rect x="643" y="284" width="22" height="1" fill="#5c5c5c"/><rect x="604" y="285" width="78" height="1" fill="#585858"/><rect x="625" y="285" width="49" height="1" fill="#4e4e4e"/><rect x="604" y="286" width="78" height="1" fill="#5e5e5e"/><rect x="604" y="287" width="78" height="1" fill="#595959"/><rect x="604" y="288" width="78" height="1" fill="#5b5b5b"/><rect x="604" y="289" width="78" height="1" fill="#646464"/><rect x="604" y="290" width="78" height="1" fill="#6d6d6d"/><rect x="615" y="290" width="35" height="1" fill="#686868"/><rect x="604" y="291" width="78" height="1" fill="#696969"/><rect x="615" y="291" width="22" height="1" fill="#646464"/><rect x="604" y="292" width="78" height="1" fill="#5a5a5a"/><rect x="604" y="293" width="78" height="1" fill="#5e5e5e"/><rect x="604" y="294" width="78" height="1" fill="#5b5b5b"/><rect x="604" y="295" width="78" height="1" fill="#616161"/><rect x="604" y="296" width="78" height="1" fill="#5e5e5e"/><rect x="645" y="296" width="15" height="1" fill="#595959"/><rect x="604" y="297" width="78" height="1" fill="#646464"/><rect x="604" y="298" width="78" height="1" fill="#575757"/><rect x="604" y="299" width="78" height="1" fill="#545454"/><rect x="656" y="299" width="15" height="1" fill="#4d4d4d"/><rect x="604" y="300" width="78" height="1" fill="#545454"/><rect x="604" y="301" width="78" height="1" fill="#5f5f5f"/><rect x="604" y="302" width="78" height="1" fill="#606060"/><rect x="605" y="302" width="68" height="1" fill="#595959"/><rect x="604" y="303" width="78" height="1" fill="#5b5b5b"/><rect x="604" y="304" width="78" height="1" fill="#636363"/><rect x="647" y="304" width="17" height="1" fill="#5a5a5a"/><rect x="604" y="305" width="78" height="1" fill="#666666"/><rect x="616" y="305" width="55" height="1" fill="#626262"/><rect x="604" y="306" width="78" height="1" fill="#646464"/><rect x="604" y="307" width="78" height="1" fill="#646464"/><rect x="604" y="308" width="78" height="1" fill="#606060"/><rect x="604" y="309" width="78" height="1" fill="#636363"/><rect x="650" y="309" width="32" height="1" fill="#5c5c5c"/><rect x="604" y="310" width="78" height="1" fill="#636363"/><rect x="606" y="310" width="65" height="1" fill="#595959"/><rect x="604" y="311" width="78" height="1" fill="#5f5f5f"/><rect x="633" y="311" width="13" height="1" fill="#575757"/><rect x="604" y="312" width="78" height="1" fill="#5e5e5e"/><rect x="657" y="312" width="21" height="1" fill="#535353"/><rect x="604" y="313" width="78" height="1" fill="#5c5c5c"/><rect x="604" y="314" width="78" height="1" fill="#606060"/><rect x="634" y="314" width="13" height="1" fill="#575757"/><rect x="604" y="315" width="78" height="1" fill="#676767"/><rect x="604" y="316" width="78" height="1" fill="#5c5c5c"/><rect x="657" y="316" width="23" height="1" fill="#545454"/><rect x="604" y="317" width="78" height="1" fill="#5f5f5f"/><rect x="604" y="318" width="78" height="1" fill="#676767"/><rect x="648" y="318" width="26" height="1" fill="#5e5e5e"/><rect x="604" y="319" width="78" height="1" fill="#5b5b5b"/><rect x="618" y="319" width="15" height="1" fill="#505050"/><rect x="604" y="320" width="78" height="1" fill="#686868"/><rect x="604" y="321" width="78" height="1" fill="#676767"/><rect x="608" y="321" width="37" height="1" fill="#616161"/><rect x="604" y="322" width="78" height="1" fill="#656565"/><rect x="604" y="323" width="78" height="1" fill="#696969"/><rect x="604" y="324" width="78" height="1" fill="#676767"/><rect x="652" y="324" width="19" height="1" fill="#616161"/><rect x="604" y="325" width="78" height="1" fill="#686868"/><rect x="604" y="326" width="78" height="1" fill="#6c6c6c"/><rect x="634" y="326" width="15" height="1" fill="#666666"/><rect x="604" y="327" width="78" height="1" fill="#6b6b6b"/><rect x="629" y="327" width="30" height="1" fill="#686868"/><rect x="604" y="328" width="78" height="1" fill="#666666"/><rect x="604" y="329" width="78" height="1" fill="#676767"/><rect x="604" y="330" width="78" height="1" fill="#6c6c6c"/><rect x="635" y="330" width="25" height="1" fill="#6a6a6a"/><rect x="604" y="331" width="78" height="1" fill="#6b6b6b"/><rect x="622" y="331" width="33" height="1" fill="#636363"/><rect x="604" y="332" width="78" height="1" fill="#686868"/><rect x="604" y="333" width="78" height="1" fill="#676767"/><rect x="604" y="334" width="78" height="1" fill="#676767"/><rect x="604" y="335" width="78" height="1" fill="#656565"/><rect x="605" y="335" width="66" height="1" fill="#606060"/><rect x="604" y="336" width="78" height="1" fill="#6b6b6b"/><rect x="607" y="336" width="64" height="1" fill="#676767"/><rect x="604" y="337" width="78" height="1" fill="#656565"/><rect x="604" y="338" width="78" height="1" fill="#676767"/><rect x="614" y="338" width="18" height="1" fill="#636363"/><rect x="604" y="339" width="78" height="1" fill="#6b6b6b"/><rect x="604" y="340" width="78" height="1" fill="#6b6b6b"/><rect x="604" y="341" width="78" height="1" fill="#6d6d6d"/><rect x="604" y="342" width="78" height="1" fill="#6d6d6d"/><rect x="626" y="342" width="37" height="1" fill="#676767"/><rect x="604" y="343" width="78" height="1" fill="#6d6d6d"/><rect x="604" y="344" width="78" height="1" fill="#6b6b6b"/><rect x="604" y="345" width="78" height="1" fill="#6a6a6a"/><rect x="604" y="346" width="78" height="1" fill="#6b6b6b"/><rect x="604" y="347" width="78" height="1" fill="#6c6c6c"/><rect x="604" y="348" width="78" height="1" fill="#626262"/><rect x="604" y="349" width="78" height="1" fill="#5f5f5f"/><rect x="649" y="349" width="14" height="1" fill="#585858"/><rect x="604" y="350" width="78" height="1" fill="#676767"/><rect x="624" y="350" width="38" height="1" fill="#5c5c5c"/><rect x="604" y="351" width="78" height="1" fill="#626262"/><rect x="604" y="352" width="78" height="1" fill="#666666"/><rect x="604" y="353" width="78" height="1" fill="#6a6a6a"/><rect x="604" y="354" width="78" height="1" fill="#5f5f5f"/><rect x="604" y="355" width="78" height="1" fill="#626262"/><rect x="656" y="355" width="23" height="1" fill="#5c5c5c"/><rect x="604" y="356" width="78" height="1" fill="#666666"/><rect x="604" y="357" width="78" height="1" fill="#696969"/><rect x="649" y="357" width="21" height="1" fill="#646464"/><rect x="604" y="358" width="78" height="1" fill="#6a6a6a"/><rect x="639" y="358" width="43" height="1" fill="#666666"/><rect x="604" y="359" width="78" height="1" fill="#6c6c6c"/><rect x="604" y="360" width="78" height="1" fill="#646464"/><rect x="646" y="360" width="36" height="1" fill="#595959"/><rect x="604" y="361" width="78" height="1" fill="#666666"/><rect x="635" y="361" width="35" height="1" fill="#606060"/><rect x="604" y="362" width="78" height="1" fill="#666666"/><rect x="604" y="363" width="78" height="1" fill="#666666"/><rect x="629" y="363" width="16" height="1" fill="#5d5d5d"/><rect x="604" y="364" width="78" height="1" fill="#636363"/><rect x="604" y="365" width="78" height="1" fill="#6a6a6a"/><rect x="604" y="366" width="78" height="1" fill="#636363"/><rect x="604" y="367" width="78" height="1" fill="#636363"/><rect x="616" y="367" width="34" height="1" fill="#5a5a5a"/><rect x="604" y="368" width="78" height="1" fill="#5d5d5d"/><rect x="604" y="369" width="78" height="1" fill="#5e5e5e"/><rect x="604" y="370" width="78" height="1" fill="#606060"/><rect x="604" y="371" width="78" height="1" fill="#696969"/><rect x="604" y="372" width="78" height="1" fill="#646464"/><rect x="604" y="373" width="78" height="1" fill="#818181"/><rect x="604" y="374" width="78" height="1" fill="#7f7f7f"/><rect x="604" y="375" width="78" height="1" fill="#818181"/><rect x="604" y="376" width="78" height="1" fill="#7f7f7f"/><rect x="604" y="377" width="78" height="1" fill="#7f7f7f"/><rect x="604" y="378" width="78" height="1" fill="#7f7f7f"/><rect x="604" y="379" width="78" height="1" fill="#808080"/><rect x="604" y="380" width="78" height="1" fill="#818181"/><rect x="604" y="381" width="78" height="1" fill="#828282"/><rect x="604" y="382" width="78" height="1" fill="#828282"/><rect x="604" y="383" width="78" height="1" fill="#818181"/><rect x="604" y="384" width="78" height="1" fill="#818181"/><rect x="604" y="385" width="78" height="1" fill="#818181"/><rect x="604" y="386" width="78" height="1" fill="#818181"/><rect x="604" y="387" width="78" height="1" fill="#818181"/><rect x="604" y="388" width="78" height="1" fill="#818181"/><rect x="604" y="389" width="78" height="1" fill="#808080"/><rect x="604" y="390" width="78" height="1" fill="#828282"/><rect x="604" y="391" width="78" height="1" fill="#808080"/><rect x="604" y="392" width="78" height="1" fill="#7e7e7e"/><rect x="604" y="393" width="78" height="1" fill="#818181"/><rect x="604" y="394" width="78" height="1" fill="#838383"/><rect x="604" y="395" width="78" height="1" fill="#828282"/><rect x="604" y="396" width="78" height="1" fill="#828282"/><rect x="604" y="397" width="78" height="1" fill="#828282"/><rect x="604" y="398" width="78" height="1" fill="#838383"/><rect x="604" y="399" width="78" height="1" fill="#838383"/><rect x="604" y="400" width="78" height="1" fill="#828282"/><rect x="604" y="401" width="78" height="1" fill="#828282"/><rect x="604" y="402" width="78" height="1" fill="#797979"/><rect x="604" y="403" width="78" height="1" fill="#6f6f6f"/><rect x="604" y="404" width="78" height="1" fill="#6e6e6e"/><rect x="604" y="405" width="78" height="1" fill="#6f6f6f"/><rect x="604" y="406" width="78" height="1" fill="#707070"/><rect x="604" y="407" width="78" height="1" fill="#747474"/><rect x="604" y="408" width="78" height="1" fill="#777777"/><rect x="604" y="409" width="78" height="1" fill="#787878"/><rect x="604" y="410" width="78" height="1" fill="#787878"/><rect x="604" y="411" width="78" height="1" fill="#737373"/><rect x="604" y="412" width="78" height="1" fill="#797979"/><rect x="604" y="413" width="78" height="1" fill="#777777"/><rect x="604" y="414" width="78" height="1" fill="#717171"/><rect x="604" y="415" width="78" height="1" fill="#787878"/><rect x="604" y="416" width="78" height="1" fill="#757575"/><rect x="604" y="417" width="78" height="1" fill="#757575"/><rect x="604" y="418" width="78" height="1" fill="#747474"/><rect x="604" y="419" width="78" height="1" fill="#727272"/><rect x="604" y="420" width="78" height="1" fill="#707070"/><rect x="604" y="421" width="78" height="1" fill="#797979"/><rect x="604" y="422" width="78" height="1" fill="#7a7a7a"/><rect x="604" y="423" width="78" height="1" fill="#767676"/><rect x="604" y="424" width="78" height="1" fill="#787878"/><rect x="604" y="425" width="78" height="1" fill="#777777"/><rect x="604" y="426" width="78" height="1" fill="#787878"/><rect x="604" y="427" width="78" height="1" fill="#797979"/><rect x="604" y="428" width="78" height="1" fill="#797979"/><rect x="604" y="429" width="78" height="1" fill="#717171"/><rect x="604" y="430" width="78" height="1" fill="#7a7a7a"/><rect x="604" y="431" width="78" height="1" fill="#7b7b7b"/><rect x="604" y="432" width="78" height="1" fill="#7b7b7b"/><rect x="604" y="433" width="78" height="1" fill="#7a7a7a"/><rect x="604" y="434" width="78" height="1" fill="#7a7a7a"/><rect x="604" y="435" width="78" height="1" fill="#7b7b7b"/><rect x="604" y="436" width="78" height="1" fill="#757575"/><rect x="604" y="437" width="78" height="1" fill="#737373"/><rect x="604" y="438" width="78" height="1" fill="#717171"/><rect x="604" y="439" width="78" height="1" fill="#707070"/><rect x="604" y="440" width="78" height="1" fill="#717171"/><rect x="604" y="441" width="78" height="1" fill="#767676"/><rect x="604" y="442" width="78" height="1" fill="#707070"/><rect x="604" y="443" width="78" height="1" fill="#747474"/><rect x="604" y="444" width="78" height="1" fill="#767676"/><rect x="604" y="445" width="78" height="1" fill="#727272"/><rect x="660" y="445" width="15" height="1" fill="#6d6d6d"/><rect x="604" y="446" width="78" height="1" fill="#727272"/><rect x="604" y="447" width="78" height="1" fill="#707070"/><rect x="604" y="448" width="78" height="1" fill="#707070"/><rect x="604" y="449" width="78" height="1" fill="#727272"/><rect x="604" y="450" width="78" height="1" fill="#6c6c6c"/><rect x="635" y="450" width="18" height="1" fill="#636363"/><rect x="604" y="451" width="78" height="1" fill="#5f5f5f"/><rect x="604" y="452" width="78" height="1" fill="#6f6f6f"/><rect x="604" y="453" width="78" height="1" fill="#787878"/><rect x="604" y="454" width="78" height="1" fill="#727272"/><rect x="604" y="455" width="78" height="1" fill="#6c6c6c"/><rect x="604" y="456" width="78" height="1" fill="#727272"/><rect x="604" y="457" width="78" height="1" fill="#787878"/><rect x="604" y="458" width="78" height="1" fill="#787878"/><rect x="604" y="459" width="78" height="1" fill="#747474"/><rect x="604" y="460" width="78" height="1" fill="#777777"/><rect x="604" y="461" width="78" height="1" fill="#777777"/><rect x="604" y="462" width="78" height="1" fill="#727272"/><rect x="643" y="462" width="34" height="1" fill="#6f6f6f"/><rect x="604" y="463" width="78" height="1" fill="#737373"/><rect x="604" y="464" width="78" height="1" fill="#717171"/><rect x="604" y="465" width="78" height="1" fill="#5f5f5f"/><rect x="604" y="466" width="78" height="1" fill="#767676"/><rect x="604" y="467" width="78" height="1" fill="#6c6c6c"/><rect x="604" y="468" width="78" height="1" fill="#717171"/><rect x="617" y="468" width="30" height="1" fill="#6b6b6b"/><rect x="604" y="469" width="78" height="1" fill="#727272"/><rect x="604" y="470" width="78" height="1" fill="#727272"/><rect x="604" y="471" width="78" height="1" fill="#6d6d6d"/><rect x="604" y="472" width="78" height="1" fill="#757575"/><rect x="604" y="473" width="78" height="1" fill="#767676"/><rect x="604" y="474" width="78" height="1" fill="#727272"/><rect x="604" y="475" width="78" height="1" fill="#727272"/><rect x="604" y="476" width="78" height="1" fill="#6c6c6c"/><rect x="604" y="477" width="78" height="1" fill="#6f6f6f"/><rect x="604" y="478" width="78" height="1" fill="#525252"/><rect x="604" y="479" width="78" height="1" fill="#555555"/><rect x="652" y="479" width="19" height="1" fill="#515151"/><rect x="604" y="480" width="78" height="1" fill="#646464"/><rect x="604" y="481" width="78" height="1" fill="#3d3d3d"/><rect x="625" y="481" width="34" height="1" fill="#383838"/><rect x="604" y="482" width="78" height="1" fill="#797979"/><rect x="604" y="483" width="78" height="1" fill="#787878"/><rect x="604" y="484" width="78" height="1" fill="#797979"/><rect x="604" y="485" width="78" height="1" fill="#797979"/><rect x="604" y="486" width="78" height="1" fill="#7b7b7b"/><rect x="604" y="487" width="78" height="1" fill="#7b7b7b"/><rect x="604" y="488" width="78" height="1" fill="#7b7b7b"/><rect x="604" y="489" width="78" height="1" fill="#7b7b7b"/><rect x="604" y="490" width="78" height="1" fill="#797979"/><rect x="604" y="491" width="78" height="1" fill="#7a7a7a"/><rect x="604" y="492" width="78" height="1" fill="#7b7b7b"/><rect x="604" y="493" width="78" height="1" fill="#7b7b7b"/><rect x="604" y="494" width="78" height="1" fill="#7a7a7a"/><rect x="604" y="495" width="78" height="1" fill="#747474"/><rect x="604" y="496" width="78" height="1" fill="#797979"/><rect x="604" y="497" width="78" height="1" fill="#777777"/><rect x="604" y="498" width="78" height="1" fill="#747474"/><rect x="604" y="499" width="78" height="1" fill="#777777"/><rect x="604" y="500" width="78" height="1" fill="#797979"/><rect x="604" y="501" width="78" height="1" fill="#717171"/><rect x="604" y="502" width="78" height="1" fill="#747474"/><rect x="604" y="503" width="78" height="1" fill="#797979"/><rect x="604" y="504" width="78" height="1" fill="#797979"/><rect x="604" y="505" width="78" height="1" fill="#787878"/><rect x="604" y="506" width="78" height="1" fill="#787878"/><rect x="604" y="507" width="78" height="1" fill="#767676"/><rect x="604" y="508" width="78" height="1" fill="#777777"/><rect x="604" y="509" width="78" height="1" fill="#767676"/><rect x="604" y="510" width="78" height="1" fill="#6b6b6b"/><rect x="604" y="511" width="78" height="1" fill="#6c6c6c"/><rect x="604" y="512" width="78" height="1" fill="#737373"/><rect x="604" y="513" width="78" height="1" fill="#747474"/><rect x="604" y="514" width="78" height="1" fill="#787878"/><rect x="604" y="515" width="78" height="1" fill="#777777"/><rect x="604" y="516" width="78" height="1" fill="#777777"/><rect x="604" y="517" width="78" height="1" fill="#767676"/><rect x="604" y="518" width="78" height="1" fill="#6b6b6b"/><rect x="604" y="519" width="78" height="1" fill="#6f6f6f"/><rect x="604" y="520" width="78" height="1" fill="#6c6c6c"/><rect x="604" y="521" width="78" height="1" fill="#6c6c6c"/><rect x="604" y="522" width="78" height="1" fill="#717171"/><rect x="604" y="523" width="78" height="1" fill="#747474"/><rect x="604" y="524" width="78" height="1" fill="#797979"/><rect x="604" y="525" width="78" height="1" fill="#7b7b7b"/><rect x="604" y="526" width="78" height="1" fill="#727272"/><rect x="604" y="527" width="78" height="1" fill="#757575"/><rect x="604" y="528" width="78" height="1" fill="#7a7a7a"/><rect x="604" y="529" width="78" height="1" fill="#777777"/><rect x="604" y="530" width="78" height="1" fill="#727272"/><rect x="604" y="531" width="78" height="1" fill="#717171"/><rect x="604" y="532" width="78" height="1" fill="#757575"/><rect x="604" y="533" width="78" height="1" fill="#797979"/><rect x="604" y="534" width="78" height="1" fill="#787878"/><rect x="604" y="535" width="78" height="1" fill="#6f6f6f"/><rect x="604" y="536" width="78" height="1" fill="#757575"/><rect x="604" y="537" width="78" height="1" fill="#767676"/><rect x="604" y="538" width="78" height="1" fill="#797979"/><rect x="604" y="539" width="78" height="1" fill="#797979"/><rect x="604" y="540" width="78" height="1" fill="#7a7a7a"/><rect x="604" y="541" width="78" height="1" fill="#797979"/><rect x="604" y="542" width="78" height="1" fill="#787878"/><rect x="604" y="543" width="78" height="1" fill="#7b7b7b"/><rect x="604" y="544" width="78" height="1" fill="#7b7b7b"/><rect x="604" y="545" width="78" height="1" fill="#7d7d7d"/><rect x="604" y="546" width="78" height="1" fill="#7d7d7d"/><rect x="604" y="547" width="78" height="1" fill="#7c7c7c"/><rect x="604" y="548" width="78" height="1" fill="#797979"/><rect x="604" y="549" width="78" height="1" fill="#7a7a7a"/><rect x="604" y="550" width="78" height="1" fill="#7b7b7b"/><rect x="604" y="551" width="78" height="1" fill="#7b7b7b"/><rect x="604" y="552" width="78" height="1" fill="#7d7d7d"/><rect x="604" y="553" width="78" height="1" fill="#7b7b7b"/><rect x="604" y="554" width="78" height="1" fill="#7a7a7a"/><rect x="604" y="555" width="78" height="1" fill="#747474"/><rect x="604" y="556" width="78" height="1" fill="#7a7a7a"/><rect x="604" y="557" width="78" height="1" fill="#7b7b7b"/><rect x="604" y="558" width="78" height="1" fill="#7c7c7c"/><rect x="604" y="559" width="78" height="1" fill="#7b7b7b"/><rect x="604" y="560" width="78" height="1" fill="#7c7c7c"/><rect x="604" y="561" width="78" height="1" fill="#7d7d7d"/><rect x="604" y="562" width="78" height="1" fill="#787878"/><rect x="604" y="563" width="78" height="1" fill="#6d6d6d"/><rect x="604" y="564" width="78" height="1" fill="#6d6d6d"/><rect x="604" y="565" width="78" height="1" fill="#717171"/><rect x="604" y="566" width="78" height="1" fill="#7c7c7c"/><rect x="612" y="566" width="58" height="1" fill="#757575"/><rect x="604" y="567" width="78" height="1" fill="#797979"/><rect x="604" y="568" width="78" height="1" fill="#787878"/><rect x="604" y="569" width="78" height="1" fill="#7a7a7a"/><rect x="604" y="570" width="78" height="1" fill="#737373"/><rect x="629" y="570" width="33" height="1" fill="#6e6e6e"/><rect x="604" y="571" width="78" height="1" fill="#717171"/><rect x="604" y="572" width="78" height="1" fill="#707070"/><rect x="604" y="573" width="78" height="1" fill="#727272"/><rect x="604" y="574" width="78" height="1" fill="#7b7b7b"/><rect x="604" y="575" width="78" height="1" fill="#707070"/><rect x="604" y="576" width="78" height="1" fill="#747474"/><rect x="604" y="577" width="78" height="1" fill="#767676"/><rect x="604" y="578" width="78" height="1" fill="#7a7a7a"/><rect x="604" y="579" width="78" height="1" fill="#797979"/><rect x="604" y="580" width="78" height="1" fill="#787878"/><rect x="604" y="581" width="78" height="1" fill="#7c7c7c"/><rect x="604" y="582" width="78" height="1" fill="#7a7a7a"/><rect x="604" y="583" width="78" height="1" fill="#797979"/><rect x="604" y="584" width="78" height="1" fill="#787878"/><rect x="604" y="585" width="78" height="1" fill="#7a7a7a"/><rect x="604" y="586" width="78" height="1" fill="#787878"/><rect x="604" y="587" width="78" height="1" fill="#747474"/><rect x="604" y="588" width="78" height="1" fill="#727272"/><rect x="604" y="589" width="78" height="1" fill="#7b7b7b"/><rect x="604" y="590" width="78" height="1" fill="#7c7c7c"/><rect x="604" y="591" width="78" height="1" fill="#7e7e7e"/><rect x="604" y="592" width="78" height="1" fill="#7e7e7e"/><rect x="604" y="593" width="78" height="1" fill="#7b7b7b"/><rect x="604" y="594" width="78" height="1" fill="#787878"/><rect x="604" y="595" width="78" height="1" fill="#787878"/><rect x="604" y="596" width="78" height="1" fill="#7b7b7b"/><rect x="604" y="597" width="78" height="1" fill="#7c7c7c"/><rect x="604" y="598" width="78" height="1" fill="#7a7a7a"/><rect x="641" y="598" width="34" height="1" fill="#6e6e6e"/><rect x="604" y="599" width="78" height="1" fill="#717171"/><rect x="604" y="600" width="78" height="1" fill="#797979"/><rect x="632" y="600" width="13" height="1" fill="#6f6f6f"/><rect x="604" y="601" width="78" height="1" fill="#818181"/><rect x="604" y="602" width="78" height="1" fill="#6e6e6e"/><rect x="639" y="602" width="33" height="1" fill="#636363"/><rect x="604" y="603" width="78" height="1" fill="#7a7a7a"/><rect x="626" y="603" width="14" height="1" fill="#727272"/><rect x="604" y="604" width="78" height="1" fill="#737373"/><rect x="604" y="605" width="78" height="1" fill="#707070"/><rect x="609" y="605" width="24" height="1" fill="#696969"/><rect x="604" y="606" width="78" height="1" fill="#7b7b7b"/><rect x="621" y="606" width="40" height="1" fill="#717171"/><rect x="604" y="607" width="78" height="1" fill="#838383"/><rect x="604" y="608" width="78" height="1" fill="#7a7a7a"/><rect x="604" y="609" width="78" height="1" fill="#818181"/><rect x="604" y="610" width="78" height="1" fill="#7a7a7a"/><rect x="604" y="611" width="78" height="1" fill="#777777"/><rect x="604" y="612" width="78" height="1" fill="#767676"/><rect x="604" y="613" width="78" height="1" fill="#7d7d7d"/><rect x="604" y="614" width="78" height="1" fill="#727272"/><rect x="604" y="615" width="78" height="1" fill="#787878"/><rect x="604" y="616" width="78" height="1" fill="#797979"/><rect x="604" y="617" width="78" height="1" fill="#7a7a7a"/><rect x="604" y="618" width="78" height="1" fill="#7d7d7d"/><rect x="604" y="619" width="78" height="1" fill="#7c7c7c"/><rect x="604" y="620" width="78" height="1" fill="#797979"/><rect x="604" y="621" width="78" height="1" fill="#787878"/><rect x="604" y="622" width="78" height="1" fill="#7e7e7e"/><rect x="604" y="623" width="78" height="1" fill="#7d7d7d"/><rect x="604" y="624" width="78" height="1" fill="#767676"/><rect x="604" y="625" width="78" height="1" fill="#787878"/><rect x="604" y="626" width="78" height="1" fill="#7c7c7c"/><rect x="604" y="627" width="78" height="1" fill="#7c7c7c"/><rect x="604" y="628" width="78" height="1" fill="#7d7d7d"/><rect x="604" y="629" width="78" height="1" fill="#7e7e7e"/><rect x="604" y="630" width="78" height="1" fill="#7a7a7a"/><rect x="604" y="631" width="78" height="1" fill="#777777"/><rect x="604" y="632" width="78" height="1" fill="#6d6d6d"/><rect x="608" y="632" width="21" height="1" fill="#696969"/><rect x="604" y="633" width="78" height="1" fill="#7b7b7b"/><rect x="604" y="634" width="78" height="1" fill="#727272"/><rect x="604" y="635" width="78" height="1" fill="#767676"/><rect x="604" y="636" width="78" height="1" fill="#7a7a7a"/><rect x="629" y="636" width="29" height="1" fill="#747474"/><rect x="604" y="637" width="78" height="1" fill="#727272"/><rect x="604" y="637" width="51" height="1" fill="#6a6a6a"/><rect x="604" y="638" width="78" height="1" fill="#757575"/><rect x="617" y="638" width="26" height="1" fill="#6f6f6f"/><rect x="604" y="639" width="78" height="1" fill="#6e6e6e"/><rect x="604" y="640" width="78" height="1" fill="#595959"/><rect x="604" y="641" width="78" height="1" fill="#5d5d5d"/><rect x="604" y="642" width="78" height="1" fill="#777777"/><rect x="604" y="643" width="78" height="1" fill="#7a7a7a"/><rect x="604" y="644" width="78" height="1" fill="#797979"/><rect x="604" y="645" width="78" height="1" fill="#7b7b7b"/><rect x="604" y="646" width="78" height="1" fill="#7c7c7c"/><rect x="604" y="647" width="78" height="1" fill="#7b7b7b"/><rect x="604" y="648" width="78" height="1" fill="#747474"/><rect x="604" y="649" width="78" height="1" fill="#777777"/><rect x="604" y="650" width="78" height="1" fill="#797979"/><rect x="604" y="651" width="78" height="1" fill="#7a7a7a"/><rect x="604" y="652" width="78" height="1" fill="#777777"/><rect x="604" y="653" width="78" height="1" fill="#7b7b7b"/><rect x="604" y="654" width="78" height="1" fill="#737373"/><rect x="604" y="655" width="78" height="1" fill="#777777"/><rect x="604" y="656" width="78" height="1" fill="#7a7a7a"/><rect x="604" y="657" width="78" height="1" fill="#7c7c7c"/><rect x="604" y="658" width="78" height="1" fill="#7c7c7c"/><rect x="604" y="659" width="78" height="1" fill="#7d7d7d"/><rect x="604" y="660" width="78" height="1" fill="#7c7c7c"/><rect x="604" y="661" width="78" height="1" fill="#7d7d7d"/><rect x="604" y="662" width="78" height="1" fill="#7b7b7b"/><rect x="604" y="663" width="78" height="1" fill="#7a7a7a"/><rect x="604" y="664" width="78" height="1" fill="#595959"/><rect x="604" y="665" width="78" height="1" fill="#6a6a6a"/><rect x="604" y="666" width="78" height="1" fill="#696969"/><rect x="604" y="667" width="78" height="1" fill="#666666"/><rect x="604" y="668" width="78" height="1" fill="#6b6b6b"/><rect x="604" y="669" width="78" height="1" fill="#6c6c6c"/><rect x="652" y="669" width="28" height="1" fill="#686868"/><rect x="604" y="670" width="78" height="1" fill="#6d6d6d"/><rect x="625" y="670" width="56" height="1" fill="#656565"/><rect x="604" y="671" width="78" height="1" fill="#616161"/><rect x="658" y="671" width="15" height="1" fill="#585858"/><rect x="604" y="672" width="78" height="1" fill="#636363"/><rect x="604" y="673" width="78" height="1" fill="#7c7c7c"/><rect x="604" y="674" width="78" height="1" fill="#7d7d7d"/><rect x="604" y="675" width="78" height="1" fill="#7c7c7c"/><rect x="604" y="676" width="78" height="1" fill="#7c7c7c"/><rect x="604" y="677" width="78" height="1" fill="#7c7c7c"/><rect x="604" y="678" width="78" height="1" fill="#7c7c7c"/><rect x="604" y="679" width="78" height="1" fill="#7c7c7c"/><rect x="604" y="680" width="78" height="1" fill="#7c7c7c"/><rect x="604" y="681" width="78" height="1" fill="#747474"/><rect x="604" y="682" width="78" height="1" fill="#757575"/><rect x="604" y="683" width="78" height="1" fill="#7a7a7a"/><rect x="604" y="684" width="78" height="1" fill="#7d7d7d"/><rect x="604" y="685" width="78" height="1" fill="#7d7d7d"/><rect x="604" y="686" width="78" height="1" fill="#7e7e7e"/><rect x="604" y="687" width="78" height="1" fill="#7c7c7c"/>
<rect x="447" y="48" width="314" height="1" fill="#000" opacity="0.1"/><rect x="447" y="48" width="1" height="624" fill="#919191"/><rect x="447" y="687" width="314" height="1" fill="url(#brow)"/><rect x="447" y="672" width="1.2" height="16" fill="#fff"/>
<circle cx="463" cy="56.6" r="1.1" fill="#999999" fill-opacity="0.45"/><rect x="463" y="56" width="1" height="1" fill="#999999"/><circle cx="533.9" cy="86.5" r="1.45" fill="#ffffff" fill-opacity="0.4"/><circle cx="533.9" cy="86.5" r="1.0" fill="#ffffff"/><rect x="579" y="91" width="1" height="1" fill="#ffffff"/><circle cx="568.3" cy="102" r="1.1" fill="#ffffff" fill-opacity="0.45"/><rect x="568" y="102" width="1" height="1" fill="#ffffff"/><circle cx="585.3" cy="105.7" r="1.1" fill="#999999" fill-opacity="0.45"/><rect x="585" y="105" width="1" height="1" fill="#999999"/><rect x="469" y="127" width="1" height="1" fill="#ffffff"/><rect x="539" y="145" width="1" height="1" fill="#ffffff"/><rect x="583" y="149" width="1" height="1" fill="#ffffff"/><rect x="473" y="178" width="1" height="1" fill="#ffffff"/><rect x="532" y="115" width="1" height="1" fill="#999999"/><rect x="522" y="131" width="1" height="1" fill="#999999"/><rect x="530" y="174" width="1" height="1" fill="#2e2e2e"/><rect x="564" y="182" width="1" height="1" fill="#999999"/><rect x="733" y="58" width="1" height="1" fill="#ffffff"/><circle cx="651.2" cy="104.4" r="1.1" fill="#ffffff" fill-opacity="0.45"/><rect x="651" y="104" width="1" height="1" fill="#ffffff"/><circle cx="651.2" cy="127.3" r="1.1" fill="#ffffff" fill-opacity="0.45"/><rect x="651" y="127" width="1" height="1" fill="#ffffff"/><circle cx="654.6" cy="134.3" r="1.1" fill="#ffffff" fill-opacity="0.45"/><rect x="654" y="134" width="1" height="1" fill="#ffffff"/><circle cx="708.4" cy="136.3" r="1.1" fill="#999999" fill-opacity="0.45"/><rect x="708" y="136" width="1" height="1" fill="#999999"/><circle cx="730" cy="153.5" r="1.1" fill="#999999" fill-opacity="0.45"/><rect x="730" y="153" width="1" height="1" fill="#999999"/><rect x="651" y="151" width="1" height="1" fill="#999999"/><rect x="665" y="175" width="1" height="1" fill="#d1d1d1"/><rect x="704" y="178" width="1" height="1" fill="#999999"/><rect x="716" y="180" width="1" height="1" fill="#d1d1d1"/><rect x="724" y="181" width="1" height="1" fill="#999999"/><rect x="692" y="65" width="1" height="1" fill="#999999"/><rect x="648" y="66" width="1" height="1" fill="#999999"/><rect x="675" y="233" width="1" height="1" fill="#ffffff"/><circle cx="571.4" cy="245.6" r="1.1" fill="#ffffff" fill-opacity="0.45"/><rect x="571" y="245" width="1" height="1" fill="#ffffff"/><circle cx="705.4" cy="261.8" r="1.1" fill="#ffffff" fill-opacity="0.45"/><rect x="705" y="261" width="1" height="1" fill="#ffffff"/><circle cx="584.8" cy="279.8" r="1.45" fill="#ffffff" fill-opacity="0.4"/><circle cx="584.8" cy="279.8" r="1.0" fill="#ffffff"/><rect x="609" y="300" width="1" height="1" fill="#ffffff"/><rect x="625" y="328" width="1" height="1" fill="#ffffff"/><rect x="651" y="352" width="1" height="1" fill="#ffffff"/><rect x="639" y="213" width="1" height="1" fill="#999999"/><circle cx="570" cy="393.8" r="1.45" fill="#ffffff" fill-opacity="0.4"/><circle cx="570" cy="393.8" r="1.0" fill="#ffffff"/><rect x="564" y="404" width="1" height="1" fill="#ffffff"/><rect x="700" y="399" width="1" height="1" fill="#ffffff"/><rect x="699" y="410" width="1" height="1" fill="#ffffff"/><rect x="637" y="417" width="2" height="1" fill="#ffffff"/><rect x="625" y="415" width="1" height="1" fill="#d1d1d1"/><rect x="644" y="432" width="2" height="1" fill="#ffffff"/><rect x="668" y="433" width="2" height="1" fill="#ffffff"/><rect x="651" y="426" width="1" height="1" fill="#999999"/><rect x="688" y="447" width="1" height="1" fill="#ffffff"/><rect x="665" y="464" width="1" height="1" fill="#ffffff"/><rect x="656" y="472" width="1" height="1" fill="#ffffff"/><rect x="570" y="474" width="1" height="1" fill="#ffffff"/><circle cx="593.4" cy="502" r="1.1" fill="#ffffff" fill-opacity="0.45"/><rect x="593" y="502" width="1" height="1" fill="#ffffff"/><circle cx="653.8" cy="508" r="1.45" fill="#ffffff" fill-opacity="0.4"/><circle cx="653.8" cy="508" r="1.0" fill="#ffffff"/><rect x="630" y="380" width="1" height="1" fill="#999999"/><rect x="656" y="385" width="1" height="1" fill="#2e2e2e"/><circle cx="726.2" cy="527.4" r="1.1" fill="#ffffff" fill-opacity="0.45"/><rect x="726" y="527" width="1" height="1" fill="#ffffff"/><circle cx="726.8" cy="544" r="1.1" fill="#999999" fill-opacity="0.45"/><rect x="726" y="544" width="1" height="1" fill="#999999"/><circle cx="616.5" cy="555" r="1.1" fill="#ffffff" fill-opacity="0.45"/><rect x="616" y="555" width="1" height="1" fill="#ffffff"/><rect x="608" y="560" width="1" height="1" fill="#ffffff"/><circle cx="561.5" cy="554.2" r="1.1" fill="#ffffff" fill-opacity="0.45"/><rect x="561" y="554" width="1" height="1" fill="#ffffff"/><rect x="688" y="587" width="2" height="1" fill="#ffffff"/><rect x="630" y="544" width="1" height="1" fill="#999999"/><rect x="629" y="591" width="1" height="1" fill="#999999"/><rect x="687" y="610" width="1" height="1" fill="#999999"/><rect x="665" y="616" width="1" height="1" fill="#d1d1d1"/><rect x="670" y="616" width="1" height="1" fill="#999999"/><rect x="600" y="629" width="2" height="1" fill="#ffffff"/><rect x="570" y="630" width="1" height="1" fill="#999999"/><rect x="653" y="629" width="1" height="1" fill="#999999"/><rect x="705" y="660" width="1" height="1" fill="#ffffff"/><circle cx="585.7" cy="664.3" r="1.45" fill="#ffffff" fill-opacity="0.4"/><circle cx="585.7" cy="664.3" r="1.0" fill="#ffffff"/><rect x="596" y="663" width="1" height="1" fill="#d1d1d1"/><rect x="696" y="665" width="1" height="1" fill="#999999"/><circle cx="675.8" cy="685.3" r="1.1" fill="#ffffff" fill-opacity="0.45"/><rect x="675" y="685" width="1" height="1" fill="#ffffff"/><rect x="607" y="658" width="1" height="1" fill="#999999"/><rect x="498" y="211" width="1" height="1" fill="#ffffff"/><circle cx="477.8" cy="221.8" r="1.45" fill="#ffffff" fill-opacity="0.4"/><circle cx="477.8" cy="221.8" r="1.0" fill="#ffffff"/><rect x="545" y="248" width="2" height="1" fill="#ffffff"/><rect x="448" y="249" width="1" height="1" fill="#999999"/><rect x="474" y="264" width="2" height="1" fill="#ffffff"/><rect x="466" y="271" width="1" height="1" fill="#ffffff"/><rect x="517" y="303" width="1" height="1" fill="#999999"/><rect x="467" y="332" width="1" height="1" fill="#999999"/><rect x="494" y="355" width="1" height="1" fill="#ffffff"/><rect x="535" y="399" width="1" height="1" fill="#d1d1d1"/><rect x="537" y="412" width="1" height="1" fill="#2e2e2e"/><rect x="451" y="435" width="3" height="2" fill="#ffffff"/><rect x="529" y="454" width="1" height="1" fill="#999999"/><rect x="453" y="466" width="1" height="1" fill="#ffffff"/><rect x="472" y="474" width="1" height="1" fill="#ffffff"/><rect x="480" y="479" width="1" height="1" fill="#d1d1d1"/><rect x="536" y="483" width="1" height="1" fill="#d1d1d1"/><rect x="536" y="510" width="1" height="1" fill="#ffffff"/><rect x="501" y="503" width="1" height="1" fill="#999999"/><rect x="506" y="526" width="1" height="1" fill="#ffffff"/><rect x="507" y="528" width="1" height="1" fill="#d1d1d1"/><rect x="490" y="528" width="1" height="1" fill="#999999"/><rect x="488" y="563" width="1" height="1" fill="#d1d1d1"/><circle cx="552" cy="571.2" r="1.1" fill="#ffffff" fill-opacity="0.45"/><rect x="552" y="571" width="1" height="1" fill="#ffffff"/><rect x="542" y="606" width="1" height="1" fill="#d1d1d1"/><circle cx="481.9" cy="628" r="1.45" fill="#ffffff" fill-opacity="0.4"/><circle cx="481.9" cy="628" r="1.0" fill="#ffffff"/><rect x="488" y="628" width="1" height="1" fill="#d1d1d1"/><rect x="464" y="657" width="1" height="1" fill="#ffffff"/><rect x="499" y="681" width="1" height="1" fill="#ffffff"/><rect x="498" y="684" width="1" height="1" fill="#ffffff"/><rect x="736" y="258" width="1" height="1" fill="#ffffff"/><rect x="720" y="266" width="1" height="1" fill="#ffffff"/><rect x="737" y="294" width="1" height="1" fill="#d1d1d1"/><rect x="728" y="324" width="1" height="1" fill="#999999"/><rect x="753" y="226" width="1" height="1" fill="#999999"/><rect x="723" y="378" width="3" height="2" fill="#ffffff"/><circle cx="748.6" cy="379" r="1.1" fill="#ffffff" fill-opacity="0.45"/><rect x="748" y="379" width="1" height="1" fill="#ffffff"/><rect x="736" y="400" width="1" height="1" fill="#ffffff"/><rect x="758" y="425" width="2" height="1" fill="#d1d1d1"/><rect x="726" y="475" width="1" height="1" fill="#d1d1d1"/><rect x="720" y="493" width="1" height="1" fill="#999999"/><rect x="752" y="459" width="1" height="1" fill="#999999"/><circle cx="697.6" cy="418" r="1.45" fill="#999999" fill-opacity="0.4"/><circle cx="697.6" cy="418" r="1.0" fill="#999999"/><rect x="760" y="543" width="1" height="1" fill="#ffffff"/><rect x="760" y="547" width="1" height="2" fill="#ffffff"/><rect x="754" y="554" width="1" height="1" fill="#2e2e2e"/><rect x="739" y="540" width="1" height="1" fill="#2e2e2e"/><circle cx="741.9" cy="595.8" r="1.45" fill="#ffffff" fill-opacity="0.4"/><circle cx="741.9" cy="595.8" r="1.0" fill="#ffffff"/>
<g filter="url(#bl)"><circle cx="483.6" cy="159" r="1.65" fill="#ffffff"/><circle cx="478.9" cy="169.4" r="2.25" fill="#ffffff"/><circle cx="596.4" cy="226" r="2.85" fill="#ffffff"/><circle cx="706.6" cy="269" r="1.5" fill="#b2b2b2" fill-opacity="0.5"/><circle cx="715.2" cy="276.4" r="1.75" fill="#ffffff"/><circle cx="570.4" cy="319.2" r="1.65" fill="#ffffff"/><circle cx="577.6" cy="322.8" r="3.15" fill="#ffffff"/><circle cx="664.8" cy="479.4" r="2.25" fill="#ffffff"/><circle cx="700" cy="464.4" r="1.5" fill="#b2b2b2" fill-opacity="0.5"/><circle cx="696.6" cy="500.4" r="1.65" fill="#ffffff"/><circle cx="608" cy="548.7" r="1.4" fill="#ffffff"/><circle cx="568.5" cy="583.5" r="1.65" fill="#ffffff"/><circle cx="729.8" cy="620.2" r="1.65" fill="#ffffff"/><circle cx="632.2" cy="629.4" r="1.65" fill="#ffffff"/><circle cx="719.5" cy="630" r="1.4" fill="#ffffff"/><circle cx="469" cy="228.8" r="1.4" fill="#ffffff"/><circle cx="472" cy="324.2" r="1.65" fill="#ffffff"/><circle cx="486.8" cy="392" r="1.4" fill="#ffffff"/><circle cx="538" cy="516.6" r="1.9" fill="#d1d1d1"/><circle cx="539.2" cy="539.8" r="1.9" fill="#ffffff"/><circle cx="547.5" cy="540.4" r="1.65" fill="#ffffff"/><circle cx="457.4" cy="569.1" r="1.65" fill="#ffffff"/><circle cx="533" cy="574.8" r="1.4" fill="#ffffff"/><circle cx="513.1" cy="619" r="3.15" fill="#ffffff"/><circle cx="534.8" cy="649" r="1.9" fill="#ffffff"/></g>
</g>
<g filter="url(#f3)">
<rect x="839" y="48" width="314" height="640" fill="url(#g3)"/>
<rect x="839" y="48" width="314" height="640" fill="url(#hx)" opacity="0.03"/>
<rect x="996" y="48" width="78" height="1" fill="#646464"/><rect x="996" y="49" width="78" height="1" fill="#616161"/><rect x="996" y="50" width="78" height="1" fill="#636363"/><rect x="996" y="51" width="78" height="1" fill="#666666"/><rect x="996" y="52" width="78" height="1" fill="#676767"/><rect x="996" y="53" width="78" height="1" fill="#676767"/><rect x="996" y="54" width="78" height="1" fill="#676767"/><rect x="996" y="55" width="78" height="1" fill="#676767"/><rect x="996" y="56" width="78" height="1" fill="#666666"/><rect x="996" y="57" width="78" height="1" fill="#666666"/><rect x="996" y="58" width="78" height="1" fill="#646464"/><rect x="996" y="59" width="78" height="1" fill="#626262"/><rect x="996" y="60" width="78" height="1" fill="#525252"/><rect x="996" y="61" width="78" height="1" fill="#595959"/><rect x="996" y="62" width="78" height="1" fill="#5a5a5a"/><rect x="996" y="63" width="78" height="1" fill="#595959"/><rect x="996" y="64" width="78" height="1" fill="#5d5d5d"/><rect x="1008" y="64" width="30" height="1" fill="#535353"/><rect x="996" y="65" width="78" height="1" fill="#606060"/><rect x="996" y="66" width="78" height="1" fill="#666666"/><rect x="996" y="67" width="78" height="1" fill="#656565"/><rect x="996" y="68" width="78" height="1" fill="#666666"/><rect x="996" y="69" width="78" height="1" fill="#636363"/><rect x="996" y="70" width="78" height="1" fill="#555555"/><rect x="996" y="71" width="78" height="1" fill="#5c5c5c"/><rect x="996" y="72" width="78" height="1" fill="#5b5b5b"/><rect x="996" y="73" width="78" height="1" fill="#5c5c5c"/><rect x="996" y="74" width="78" height="1" fill="#535353"/><rect x="1034" y="74" width="16" height="1" fill="#4c4c4c"/><rect x="996" y="75" width="78" height="1" fill="#5b5b5b"/><rect x="996" y="76" width="78" height="1" fill="#5b5b5b"/><rect x="1011" y="76" width="20" height="1" fill="#525252"/><rect x="996" y="77" width="78" height="1" fill="#535353"/><rect x="996" y="78" width="78" height="1" fill="#565656"/><rect x="996" y="79" width="78" height="1" fill="#636363"/><rect x="996" y="80" width="78" height="1" fill="#636363"/><rect x="996" y="81" width="78" height="1" fill="#5f5f5f"/><rect x="996" y="82" width="78" height="1" fill="#5e5e5e"/><rect x="996" y="83" width="78" height="1" fill="#646464"/><rect x="996" y="84" width="78" height="1" fill="#606060"/><rect x="996" y="85" width="78" height="1" fill="#5e5e5e"/><rect x="996" y="86" width="78" height="1" fill="#5c5c5c"/><rect x="996" y="87" width="78" height="1" fill="#5e5e5e"/><rect x="996" y="88" width="78" height="1" fill="#606060"/><rect x="996" y="89" width="78" height="1" fill="#616161"/><rect x="996" y="90" width="78" height="1" fill="#525252"/><rect x="996" y="91" width="78" height="1" fill="#525252"/><rect x="996" y="92" width="78" height="1" fill="#4e4e4e"/><rect x="996" y="93" width="78" height="1" fill="#525252"/><rect x="1014" y="93" width="18" height="1" fill="#4c4c4c"/><rect x="996" y="94" width="78" height="1" fill="#545454"/><rect x="996" y="95" width="78" height="1" fill="#5a5a5a"/><rect x="1008" y="95" width="58" height="1" fill="#515151"/><rect x="996" y="96" width="78" height="1" fill="#616161"/><rect x="996" y="97" width="78" height="1" fill="#616161"/><rect x="996" y="98" width="78" height="1" fill="#626262"/><rect x="996" y="99" width="78" height="1" fill="#646464"/><rect x="996" y="100" width="78" height="1" fill="#616161"/><rect x="996" y="101" width="78" height="1" fill="#5b5b5b"/><rect x="996" y="102" width="78" height="1" fill="#555555"/><rect x="996" y="103" width="78" height="1" fill="#535353"/><rect x="996" y="104" width="78" height="1" fill="#515151"/><rect x="996" y="105" width="78" height="1" fill="#5b5b5b"/><rect x="1032" y="105" width="41" height="1" fill="#525252"/><rect x="996" y="106" width="78" height="1" fill="#545454"/><rect x="996" y="107" width="78" height="1" fill="#545454"/><rect x="996" y="108" width="78" height="1" fill="#5d5d5d"/><rect x="996" y="109" width="78" height="1" fill="#5e5e5e"/><rect x="996" y="110" width="78" height="1" fill="#616161"/><rect x="996" y="111" width="78" height="1" fill="#5f5f5f"/><rect x="996" y="112" width="78" height="1" fill="#5f5f5f"/><rect x="996" y="113" width="78" height="1" fill="#5f5f5f"/><rect x="996" y="114" width="78" height="1" fill="#5b5b5b"/><rect x="996" y="115" width="78" height="1" fill="#5c5c5c"/><rect x="996" y="116" width="78" height="1" fill="#5c5c5c"/><rect x="996" y="117" width="78" height="1" fill="#5e5e5e"/><rect x="996" y="118" width="78" height="1" fill="#585858"/><rect x="996" y="119" width="78" height="1" fill="#5e5e5e"/><rect x="996" y="120" width="78" height="1" fill="#494949"/><rect x="1011" y="120" width="47" height="1" fill="#454545"/><rect x="996" y="121" width="78" height="1" fill="#424242"/><rect x="996" y="122" width="78" height="1" fill="#393939"/><rect x="1002" y="122" width="33" height="1" fill="#333333"/><rect x="996" y="123" width="78" height="1" fill="#424242"/><rect x="996" y="124" width="78" height="1" fill="#434343"/><rect x="996" y="125" width="78" height="1" fill="#535353"/><rect x="996" y="126" width="78" height="1" fill="#565656"/><rect x="996" y="127" width="78" height="1" fill="#585858"/><rect x="996" y="128" width="78" height="1" fill="#5b5b5b"/><rect x="1052" y="128" width="17" height="1" fill="#525252"/><rect x="996" y="129" width="78" height="1" fill="#5c5c5c"/><rect x="996" y="130" width="78" height="1" fill="#5b5b5b"/><rect x="996" y="131" width="78" height="1" fill="#5c5c5c"/><rect x="996" y="132" width="78" height="1" fill="#575757"/><rect x="996" y="133" width="78" height="1" fill="#555555"/><rect x="996" y="134" width="78" height="1" fill="#5c5c5c"/><rect x="1037" y="134" width="24" height="1" fill="#505050"/><rect x="996" y="135" width="78" height="1" fill="#555555"/><rect x="1000" y="135" width="53" height="1" fill="#4f4f4f"/><rect x="996" y="136" width="78" height="1" fill="#494949"/><rect x="1021" y="136" width="10" height="1" fill="#454545"/><rect x="996" y="137" width="78" height="1" fill="#4d4d4d"/><rect x="1008" y="137" width="56" height="1" fill="#434343"/><rect x="996" y="138" width="78" height="1" fill="#4a4a4a"/><rect x="1020" y="138" width="54" height="1" fill="#444444"/><rect x="996" y="139" width="78" height="1" fill="#585858"/><rect x="1053" y="139" width="17" height="1" fill="#535353"/><rect x="996" y="140" width="78" height="1" fill="#5b5b5b"/><rect x="996" y="141" width="78" height="1" fill="#757575"/><rect x="996" y="142" width="78" height="1" fill="#757575"/><rect x="996" y="143" width="78" height="1" fill="#757575"/><rect x="996" y="144" width="78" height="1" fill="#757575"/><rect x="996" y="145" width="78" height="1" fill="#757575"/><rect x="996" y="146" width="78" height="1" fill="#757575"/><rect x="996" y="147" width="78" height="1" fill="#757575"/><rect x="996" y="148" width="78" height="1" fill="#737373"/><rect x="996" y="149" width="78" height="1" fill="#757575"/><rect x="996" y="150" width="78" height="1" fill="#757575"/><rect x="996" y="151" width="78" height="1" fill="#737373"/><rect x="996" y="152" width="78" height="1" fill="#5e5e5e"/><rect x="996" y="153" width="78" height="1" fill="#5f5f5f"/><rect x="996" y="154" width="78" height="1" fill="#626262"/><rect x="996" y="155" width="78" height="1" fill="#5f5f5f"/><rect x="996" y="156" width="78" height="1" fill="#636363"/><rect x="996" y="157" width="78" height="1" fill="#676767"/><rect x="996" y="158" width="78" height="1" fill="#666666"/><rect x="996" y="159" width="78" height="1" fill="#5f5f5f"/><rect x="996" y="160" width="78" height="1" fill="#676767"/><rect x="996" y="161" width="78" height="1" fill="#676767"/><rect x="996" y="162" width="78" height="1" fill="#676767"/><rect x="996" y="163" width="78" height="1" fill="#666666"/><rect x="996" y="164" width="78" height="1" fill="#636363"/><rect x="996" y="165" width="78" height="1" fill="#616161"/><rect x="996" y="166" width="78" height="1" fill="#494949"/><rect x="996" y="167" width="78" height="1" fill="#575757"/><rect x="1030" y="167" width="19" height="1" fill="#4d4d4d"/><rect x="996" y="168" width="78" height="1" fill="#5e5e5e"/><rect x="996" y="169" width="78" height="1" fill="#5a5a5a"/><rect x="996" y="170" width="78" height="1" fill="#5d5d5d"/><rect x="996" y="171" width="78" height="1" fill="#515151"/><rect x="996" y="172" width="78" height="1" fill="#4f4f4f"/><rect x="996" y="173" width="78" height="1" fill="#555555"/><rect x="996" y="174" width="78" height="1" fill="#4e4e4e"/><rect x="1032" y="174" width="38" height="1" fill="#434343"/><rect x="996" y="175" width="78" height="1" fill="#5d5d5d"/><rect x="996" y="176" width="78" height="1" fill="#5f5f5f"/><rect x="996" y="177" width="78" height="1" fill="#5d5d5d"/><rect x="996" y="178" width="78" height="1" fill="#5d5d5d"/><rect x="996" y="179" width="78" height="1" fill="#5c5c5c"/><rect x="1028" y="179" width="14" height="1" fill="#545454"/><rect x="996" y="180" width="78" height="1" fill="#5a5a5a"/><rect x="996" y="181" width="78" height="1" fill="#5b5b5b"/><rect x="996" y="182" width="78" height="1" fill="#5d5d5d"/><rect x="1018" y="182" width="12" height="1" fill="#585858"/><rect x="996" y="183" width="78" height="1" fill="#5e5e5e"/><rect x="996" y="184" width="78" height="1" fill="#5c5c5c"/><rect x="1037" y="184" width="37" height="1" fill="#545454"/><rect x="996" y="185" width="78" height="1" fill="#474747"/><rect x="996" y="186" width="78" height="1" fill="#464646"/><rect x="996" y="187" width="78" height="1" fill="#5c5c5c"/><rect x="996" y="188" width="78" height="1" fill="#575757"/><rect x="1013" y="188" width="49" height="1" fill="#525252"/><rect x="996" y="189" width="78" height="1" fill="#5a5a5a"/><rect x="1039" y="189" width="26" height="1" fill="#565656"/><rect x="996" y="190" width="78" height="1" fill="#484848"/><rect x="996" y="191" width="78" height="1" fill="#4a4a4a"/><rect x="996" y="192" width="78" height="1" fill="#494949"/><rect x="996" y="193" width="78" height="1" fill="#4a4a4a"/><rect x="996" y="194" width="78" height="1" fill="#4b4b4b"/><rect x="1039" y="194" width="13" height="1" fill="#464646"/><rect x="996" y="195" width="78" height="1" fill="#666666"/><rect x="1051" y="195" width="17" height="1" fill="#626262"/><rect x="996" y="196" width="78" height="1" fill="#646464"/><rect x="996" y="197" width="78" height="1" fill="#5f5f5f"/><rect x="1010" y="197" width="28" height="1" fill="#5b5b5b"/><rect x="996" y="198" width="78" height="1" fill="#595959"/><rect x="996" y="199" width="78" height="1" fill="#606060"/><rect x="996" y="200" width="78" height="1" fill="#505050"/><rect x="996" y="201" width="78" height="1" fill="#525252"/><rect x="996" y="202" width="78" height="1" fill="#525252"/><rect x="996" y="203" width="78" height="1" fill="#656565"/><rect x="1000" y="203" width="66" height="1" fill="#5e5e5e"/><rect x="996" y="204" width="78" height="1" fill="#686868"/><rect x="996" y="205" width="78" height="1" fill="#646464"/><rect x="996" y="206" width="78" height="1" fill="#616161"/><rect x="1015" y="206" width="12" height="1" fill="#585858"/><rect x="996" y="207" width="78" height="1" fill="#606060"/><rect x="996" y="208" width="78" height="1" fill="#5e5e5e"/><rect x="996" y="209" width="78" height="1" fill="#5c5c5c"/><rect x="1014" y="209" width="28" height="1" fill="#535353"/><rect x="996" y="210" width="78" height="1" fill="#5d5d5d"/><rect x="1040" y="210" width="20" height="1" fill="#545454"/><rect x="996" y="211" width="78" height="1" fill="#626262"/><rect x="996" y="212" width="78" height="1" fill="#5a5a5a"/><rect x="996" y="213" width="78" height="1" fill="#595959"/><rect x="996" y="214" width="78" height="1" fill="#606060"/><rect x="996" y="215" width="78" height="1" fill="#606060"/><rect x="996" y="216" width="78" height="1" fill="#626262"/><rect x="1054" y="216" width="15" height="1" fill="#555555"/><rect x="996" y="217" width="78" height="1" fill="#626262"/><rect x="996" y="218" width="78" height="1" fill="#464646"/><rect x="996" y="219" width="78" height="1" fill="#4f4f4f"/><rect x="1043" y="219" width="27" height="1" fill="#474747"/><rect x="996" y="220" width="78" height="1" fill="#4d4d4d"/><rect x="996" y="221" width="78" height="1" fill="#4f4f4f"/><rect x="996" y="222" width="78" height="1" fill="#616161"/><rect x="996" y="223" width="78" height="1" fill="#626262"/><rect x="996" y="224" width="78" height="1" fill="#606060"/><rect x="996" y="225" width="78" height="1" fill="#5e5e5e"/><rect x="996" y="226" width="78" height="1" fill="#5d5d5d"/><rect x="996" y="227" width="78" height="1" fill="#5d5d5d"/><rect x="996" y="228" width="78" height="1" fill="#5f5f5f"/><rect x="996" y="229" width="78" height="1" fill="#616161"/><rect x="996" y="230" width="78" height="1" fill="#636363"/><rect x="996" y="231" width="78" height="1" fill="#5e5e5e"/><rect x="996" y="232" width="78" height="1" fill="#606060"/><rect x="996" y="233" width="78" height="1" fill="#636363"/><rect x="996" y="234" width="78" height="1" fill="#606060"/><rect x="996" y="235" width="78" height="1" fill="#5f5f5f"/><rect x="996" y="236" width="78" height="1" fill="#636363"/><rect x="996" y="237" width="78" height="1" fill="#525252"/><rect x="996" y="238" width="78" height="1" fill="#4f4f4f"/><rect x="996" y="238" width="15" height="1" fill="#4a4a4a"/><rect x="996" y="239" width="78" height="1" fill="#585858"/><rect x="1026" y="239" width="43" height="1" fill="#535353"/><rect x="996" y="240" width="78" height="1" fill="#606060"/><rect x="996" y="241" width="78" height="1" fill="#565656"/><rect x="996" y="242" width="78" height="1" fill="#767676"/><rect x="996" y="243" width="78" height="1" fill="#777777"/><rect x="996" y="244" width="78" height="1" fill="#767676"/><rect x="996" y="245" width="78" height="1" fill="#747474"/><rect x="996" y="246" width="78" height="1" fill="#777777"/><rect x="996" y="247" width="78" height="1" fill="#777777"/><rect x="996" y="248" width="78" height="1" fill="#787878"/><rect x="996" y="249" width="78" height="1" fill="#787878"/><rect x="996" y="250" width="78" height="1" fill="#777777"/><rect x="996" y="251" width="78" height="1" fill="#757575"/><rect x="996" y="252" width="78" height="1" fill="#777777"/><rect x="996" y="253" width="78" height="1" fill="#767676"/><rect x="996" y="254" width="78" height="1" fill="#777777"/><rect x="996" y="255" width="78" height="1" fill="#767676"/><rect x="996" y="256" width="78" height="1" fill="#767676"/><rect x="996" y="257" width="78" height="1" fill="#777777"/><rect x="996" y="258" width="78" height="1" fill="#777777"/><rect x="996" y="259" width="78" height="1" fill="#767676"/><rect x="996" y="260" width="78" height="1" fill="#767676"/><rect x="996" y="261" width="78" height="1" fill="#777777"/><rect x="996" y="262" width="78" height="1" fill="#787878"/><rect x="996" y="263" width="78" height="1" fill="#777777"/><rect x="996" y="264" width="78" height="1" fill="#777777"/><rect x="996" y="265" width="78" height="1" fill="#767676"/><rect x="996" y="266" width="78" height="1" fill="#767676"/><rect x="996" y="267" width="78" height="1" fill="#777777"/><rect x="996" y="268" width="78" height="1" fill="#777777"/><rect x="996" y="269" width="78" height="1" fill="#757575"/><rect x="996" y="270" width="78" height="1" fill="#777777"/><rect x="996" y="271" width="78" height="1" fill="#777777"/><rect x="996" y="272" width="78" height="1" fill="#777777"/><rect x="996" y="273" width="78" height="1" fill="#767676"/><rect x="996" y="274" width="78" height="1" fill="#757575"/><rect x="996" y="275" width="78" height="1" fill="#767676"/><rect x="996" y="276" width="78" height="1" fill="#777777"/><rect x="996" y="277" width="78" height="1" fill="#777777"/><rect x="996" y="278" width="78" height="1" fill="#777777"/><rect x="996" y="279" width="78" height="1" fill="#757575"/><rect x="996" y="280" width="78" height="1" fill="#767676"/><rect x="996" y="281" width="78" height="1" fill="#777777"/><rect x="996" y="282" width="78" height="1" fill="#777777"/><rect x="996" y="283" width="78" height="1" fill="#777777"/><rect x="996" y="284" width="78" height="1" fill="#777777"/><rect x="996" y="285" width="78" height="1" fill="#777777"/><rect x="996" y="286" width="78" height="1" fill="#787878"/><rect x="996" y="287" width="78" height="1" fill="#777777"/><rect x="996" y="288" width="78" height="1" fill="#777777"/><rect x="996" y="289" width="78" height="1" fill="#787878"/><rect x="996" y="290" width="78" height="1" fill="#636363"/><rect x="996" y="291" width="78" height="1" fill="#696969"/><rect x="996" y="292" width="78" height="1" fill="#626262"/><rect x="1054" y="292" width="10" height="1" fill="#595959"/><rect x="996" y="293" width="78" height="1" fill="#595959"/><rect x="1011" y="293" width="23" height="1" fill="#515151"/><rect x="996" y="294" width="78" height="1" fill="#595959"/><rect x="996" y="295" width="78" height="1" fill="#595959"/><rect x="1044" y="295" width="15" height="1" fill="#535353"/><rect x="996" y="296" width="78" height="1" fill="#525252"/><rect x="996" y="297" width="78" height="1" fill="#6b6b6b"/><rect x="996" y="298" width="78" height="1" fill="#686868"/><rect x="996" y="299" width="78" height="1" fill="#6c6c6c"/><rect x="996" y="300" width="78" height="1" fill="#6b6b6b"/><rect x="996" y="301" width="78" height="1" fill="#6b6b6b"/><rect x="996" y="302" width="78" height="1" fill="#6f6f6f"/><rect x="996" y="303" width="78" height="1" fill="#707070"/><rect x="996" y="304" width="78" height="1" fill="#6d6d6d"/><rect x="996" y="305" width="78" height="1" fill="#6f6f6f"/><rect x="996" y="306" width="78" height="1" fill="#727272"/><rect x="996" y="307" width="78" height="1" fill="#727272"/><rect x="996" y="308" width="78" height="1" fill="#707070"/><rect x="996" y="309" width="78" height="1" fill="#717171"/><rect x="996" y="310" width="78" height="1" fill="#6c6c6c"/><rect x="996" y="311" width="78" height="1" fill="#6e6e6e"/><rect x="996" y="312" width="78" height="1" fill="#6e6e6e"/><rect x="996" y="313" width="78" height="1" fill="#717171"/><rect x="996" y="314" width="78" height="1" fill="#6e6e6e"/><rect x="996" y="315" width="78" height="1" fill="#6d6d6d"/><rect x="996" y="316" width="78" height="1" fill="#777777"/><rect x="996" y="317" width="78" height="1" fill="#787878"/><rect x="996" y="318" width="78" height="1" fill="#767676"/><rect x="996" y="319" width="78" height="1" fill="#777777"/><rect x="996" y="320" width="78" height="1" fill="#777777"/><rect x="996" y="321" width="78" height="1" fill="#777777"/><rect x="996" y="322" width="78" height="1" fill="#767676"/><rect x="996" y="323" width="78" height="1" fill="#787878"/><rect x="996" y="324" width="78" height="1" fill="#787878"/><rect x="996" y="325" width="78" height="1" fill="#787878"/><rect x="996" y="326" width="78" height="1" fill="#787878"/><rect x="996" y="327" width="78" height="1" fill="#787878"/><rect x="996" y="328" width="78" height="1" fill="#777777"/><rect x="996" y="329" width="78" height="1" fill="#787878"/><rect x="996" y="330" width="78" height="1" fill="#797979"/><rect x="996" y="331" width="78" height="1" fill="#787878"/><rect x="996" y="332" width="78" height="1" fill="#797979"/><rect x="996" y="333" width="78" height="1" fill="#797979"/><rect x="996" y="334" width="78" height="1" fill="#797979"/><rect x="996" y="335" width="78" height="1" fill="#787878"/><rect x="996" y="336" width="78" height="1" fill="#777777"/><rect x="996" y="337" width="78" height="1" fill="#797979"/><rect x="996" y="338" width="78" height="1" fill="#6d6d6d"/><rect x="1013" y="338" width="61" height="1" fill="#666666"/><rect x="996" y="339" width="78" height="1" fill="#6d6d6d"/><rect x="996" y="340" width="78" height="1" fill="#6d6d6d"/><rect x="996" y="341" width="78" height="1" fill="#6f6f6f"/><rect x="1038" y="341" width="33" height="1" fill="#686868"/><rect x="996" y="342" width="78" height="1" fill="#6f6f6f"/><rect x="996" y="343" width="78" height="1" fill="#6e6e6e"/><rect x="996" y="344" width="78" height="1" fill="#6b6b6b"/><rect x="996" y="345" width="78" height="1" fill="#6a6a6a"/><rect x="1028" y="345" width="21" height="1" fill="#666666"/><rect x="996" y="346" width="78" height="1" fill="#777777"/><rect x="996" y="347" width="78" height="1" fill="#767676"/><rect x="996" y="348" width="78" height="1" fill="#767676"/><rect x="996" y="349" width="78" height="1" fill="#757575"/><rect x="996" y="350" width="78" height="1" fill="#767676"/><rect x="996" y="351" width="78" height="1" fill="#757575"/><rect x="996" y="352" width="78" height="1" fill="#636363"/><rect x="996" y="353" width="78" height="1" fill="#636363"/><rect x="996" y="354" width="78" height="1" fill="#6b6b6b"/><rect x="1027" y="354" width="40" height="1" fill="#666666"/><rect x="996" y="355" width="78" height="1" fill="#6c6c6c"/><rect x="996" y="356" width="78" height="1" fill="#797979"/><rect x="996" y="357" width="78" height="1" fill="#787878"/><rect x="996" y="358" width="78" height="1" fill="#797979"/><rect x="996" y="359" width="78" height="1" fill="#797979"/><rect x="996" y="360" width="78" height="1" fill="#767676"/><rect x="996" y="361" width="78" height="1" fill="#767676"/><rect x="996" y="362" width="78" height="1" fill="#777777"/><rect x="996" y="363" width="78" height="1" fill="#797979"/><rect x="996" y="364" width="78" height="1" fill="#797979"/><rect x="996" y="365" width="78" height="1" fill="#797979"/><rect x="996" y="366" width="78" height="1" fill="#797979"/><rect x="996" y="367" width="78" height="1" fill="#777777"/><rect x="996" y="368" width="78" height="1" fill="#767676"/><rect x="996" y="369" width="78" height="1" fill="#777777"/><rect x="996" y="370" width="78" height="1" fill="#787878"/><rect x="996" y="371" width="78" height="1" fill="#787878"/><rect x="996" y="372" width="78" height="1" fill="#777777"/><rect x="996" y="373" width="78" height="1" fill="#646464"/><rect x="996" y="374" width="78" height="1" fill="#6c6c6c"/><rect x="996" y="375" width="78" height="1" fill="#696969"/><rect x="1023" y="375" width="38" height="1" fill="#606060"/><rect x="996" y="376" width="78" height="1" fill="#6d6d6d"/><rect x="996" y="377" width="78" height="1" fill="#727272"/><rect x="996" y="378" width="78" height="1" fill="#6c6c6c"/><rect x="996" y="379" width="78" height="1" fill="#6d6d6d"/><rect x="996" y="380" width="78" height="1" fill="#6d6d6d"/><rect x="996" y="381" width="78" height="1" fill="#646464"/><rect x="996" y="382" width="78" height="1" fill="#676767"/><rect x="1033" y="382" width="30" height="1" fill="#656565"/><rect x="996" y="383" width="78" height="1" fill="#5a5a5a"/><rect x="996" y="384" width="78" height="1" fill="#646464"/><rect x="1015" y="384" width="24" height="1" fill="#5a5a5a"/><rect x="996" y="385" width="78" height="1" fill="#6b6b6b"/><rect x="1038" y="385" width="12" height="1" fill="#636363"/><rect x="996" y="386" width="78" height="1" fill="#6d6d6d"/><rect x="996" y="387" width="78" height="1" fill="#696969"/><rect x="1019" y="387" width="37" height="1" fill="#656565"/><rect x="996" y="388" width="78" height="1" fill="#717171"/><rect x="996" y="389" width="78" height="1" fill="#727272"/><rect x="996" y="390" width="78" height="1" fill="#737373"/><rect x="1014" y="390" width="16" height="1" fill="#6d6d6d"/><rect x="996" y="391" width="78" height="1" fill="#717171"/><rect x="996" y="392" width="78" height="1" fill="#737373"/><rect x="1005" y="392" width="52" height="1" fill="#6c6c6c"/><rect x="996" y="393" width="78" height="1" fill="#737373"/><rect x="1024" y="393" width="29" height="1" fill="#6d6d6d"/><rect x="996" y="394" width="78" height="1" fill="#6b6b6b"/><rect x="996" y="395" width="78" height="1" fill="#6b6b6b"/><rect x="996" y="396" width="78" height="1" fill="#747474"/><rect x="996" y="397" width="78" height="1" fill="#737373"/><rect x="1012" y="397" width="43" height="1" fill="#6d6d6d"/><rect x="996" y="398" width="78" height="1" fill="#6a6a6a"/><rect x="1015" y="398" width="45" height="1" fill="#616161"/><rect x="996" y="399" width="78" height="1" fill="#5b5b5b"/><rect x="996" y="400" width="78" height="1" fill="#656565"/><rect x="996" y="401" width="78" height="1" fill="#646464"/><rect x="996" y="402" width="78" height="1" fill="#656565"/><rect x="996" y="403" width="78" height="1" fill="#696969"/><rect x="996" y="404" width="78" height="1" fill="#626262"/><rect x="996" y="405" width="78" height="1" fill="#676767"/><rect x="996" y="406" width="78" height="1" fill="#686868"/><rect x="1023" y="406" width="17" height="1" fill="#646464"/><rect x="996" y="407" width="78" height="1" fill="#717171"/><rect x="1028" y="407" width="34" height="1" fill="#696969"/><rect x="996" y="408" width="78" height="1" fill="#6d6d6d"/><rect x="996" y="409" width="78" height="1" fill="#646464"/><rect x="996" y="410" width="78" height="1" fill="#696969"/><rect x="1021" y="410" width="36" height="1" fill="#666666"/><rect x="996" y="411" width="78" height="1" fill="#6d6d6d"/><rect x="996" y="412" width="78" height="1" fill="#6a6a6a"/><rect x="996" y="413" width="78" height="1" fill="#6e6e6e"/><rect x="996" y="414" width="78" height="1" fill="#6f6f6f"/><rect x="996" y="415" width="78" height="1" fill="#757575"/><rect x="1001" y="415" width="47" height="1" fill="#696969"/><rect x="996" y="416" width="78" height="1" fill="#6c6c6c"/><rect x="996" y="417" width="78" height="1" fill="#6f6f6f"/><rect x="1007" y="417" width="13" height="1" fill="#696969"/><rect x="996" y="418" width="78" height="1" fill="#5a5a5a"/><rect x="1018" y="418" width="25" height="1" fill="#505050"/><rect x="996" y="419" width="78" height="1" fill="#5f5f5f"/><rect x="996" y="420" width="78" height="1" fill="#5f5f5f"/><rect x="996" y="421" width="78" height="1" fill="#666666"/><rect x="996" y="422" width="78" height="1" fill="#616161"/><rect x="996" y="423" width="78" height="1" fill="#5c5c5c"/><rect x="996" y="424" width="78" height="1" fill="#626262"/><rect x="1025" y="424" width="29" height="1" fill="#5c5c5c"/><rect x="996" y="425" width="78" height="1" fill="#676767"/><rect x="996" y="426" width="78" height="1" fill="#636363"/><rect x="996" y="427" width="78" height="1" fill="#5c5c5c"/><rect x="996" y="428" width="78" height="1" fill="#616161"/><rect x="996" y="429" width="78" height="1" fill="#696969"/><rect x="996" y="430" width="78" height="1" fill="#737373"/><rect x="996" y="431" width="78" height="1" fill="#747474"/><rect x="996" y="432" width="78" height="1" fill="#737373"/><rect x="996" y="433" width="78" height="1" fill="#636363"/><rect x="996" y="434" width="78" height="1" fill="#696969"/><rect x="996" y="435" width="78" height="1" fill="#636363"/><rect x="996" y="436" width="78" height="1" fill="#595959"/><rect x="1007" y="436" width="58" height="1" fill="#4e4e4e"/><rect x="996" y="437" width="78" height="1" fill="#686868"/><rect x="996" y="438" width="78" height="1" fill="#676767"/><rect x="996" y="439" width="78" height="1" fill="#696969"/><rect x="996" y="440" width="78" height="1" fill="#676767"/><rect x="996" y="441" width="78" height="1" fill="#6e6e6e"/><rect x="996" y="442" width="78" height="1" fill="#777777"/><rect x="996" y="443" width="78" height="1" fill="#7a7a7a"/><rect x="996" y="444" width="78" height="1" fill="#717171"/><rect x="996" y="445" width="78" height="1" fill="#6e6e6e"/><rect x="1006" y="445" width="36" height="1" fill="#686868"/><rect x="996" y="446" width="78" height="1" fill="#626262"/><rect x="996" y="447" width="78" height="1" fill="#4e4e4e"/><rect x="1053" y="447" width="10" height="1" fill="#484848"/><rect x="996" y="448" width="78" height="1" fill="#4f4f4f"/><rect x="996" y="449" width="78" height="1" fill="#6e6e6e"/><rect x="996" y="450" width="78" height="1" fill="#707070"/><rect x="996" y="451" width="78" height="1" fill="#707070"/><rect x="996" y="452" width="78" height="1" fill="#6f6f6f"/><rect x="1021" y="452" width="38" height="1" fill="#646464"/><rect x="996" y="453" width="78" height="1" fill="#6b6b6b"/><rect x="1037" y="453" width="29" height="1" fill="#606060"/><rect x="996" y="454" width="78" height="1" fill="#737373"/><rect x="996" y="455" width="78" height="1" fill="#717171"/><rect x="1044" y="455" width="15" height="1" fill="#6a6a6a"/><rect x="996" y="456" width="78" height="1" fill="#6f6f6f"/><rect x="996" y="457" width="78" height="1" fill="#5c5c5c"/><rect x="996" y="458" width="78" height="1" fill="#555555"/><rect x="996" y="459" width="78" height="1" fill="#4a4a4a"/><rect x="996" y="460" width="78" height="1" fill="#545454"/><rect x="1029" y="460" width="24" height="1" fill="#4b4b4b"/><rect x="996" y="461" width="78" height="1" fill="#4c4c4c"/><rect x="996" y="462" width="78" height="1" fill="#585858"/><rect x="996" y="463" width="78" height="1" fill="#4c4c4c"/><rect x="996" y="464" width="78" height="1" fill="#5e5e5e"/><rect x="1034" y="464" width="36" height="1" fill="#555555"/><rect x="996" y="465" width="78" height="1" fill="#6b6b6b"/><rect x="996" y="466" width="78" height="1" fill="#646464"/><rect x="996" y="467" width="78" height="1" fill="#6b6b6b"/><rect x="996" y="468" width="78" height="1" fill="#6e6e6e"/><rect x="996" y="469" width="78" height="1" fill="#6d6d6d"/><rect x="996" y="470" width="78" height="1" fill="#707070"/><rect x="996" y="471" width="78" height="1" fill="#6b6b6b"/><rect x="996" y="472" width="78" height="1" fill="#6f6f6f"/><rect x="996" y="473" width="78" height="1" fill="#6f6f6f"/><rect x="996" y="474" width="78" height="1" fill="#717171"/><rect x="1052" y="474" width="16" height="1" fill="#6d6d6d"/><rect x="996" y="475" width="78" height="1" fill="#727272"/><rect x="996" y="476" width="78" height="1" fill="#6d6d6d"/><rect x="1050" y="476" width="18" height="1" fill="#646464"/><rect x="996" y="477" width="78" height="1" fill="#727272"/><rect x="996" y="478" width="78" height="1" fill="#737373"/><rect x="996" y="479" width="78" height="1" fill="#787878"/><rect x="996" y="480" width="78" height="1" fill="#747474"/><rect x="1036" y="480" width="36" height="1" fill="#6c6c6c"/><rect x="996" y="481" width="78" height="1" fill="#717171"/><rect x="999" y="481" width="59" height="1" fill="#6c6c6c"/><rect x="996" y="482" width="78" height="1" fill="#6e6e6e"/><rect x="996" y="483" width="78" height="1" fill="#6f6f6f"/><rect x="996" y="484" width="78" height="1" fill="#747474"/><rect x="1029" y="484" width="23" height="1" fill="#6b6b6b"/><rect x="996" y="485" width="78" height="1" fill="#747474"/><rect x="996" y="486" width="78" height="1" fill="#7b7b7b"/><rect x="996" y="487" width="78" height="1" fill="#7c7c7c"/><rect x="996" y="488" width="78" height="1" fill="#7a7a7a"/><rect x="996" y="489" width="78" height="1" fill="#7a7a7a"/><rect x="996" y="490" width="78" height="1" fill="#7a7a7a"/><rect x="996" y="491" width="78" height="1" fill="#7b7b7b"/><rect x="996" y="492" width="78" height="1" fill="#787878"/><rect x="996" y="493" width="78" height="1" fill="#797979"/><rect x="996" y="494" width="78" height="1" fill="#7b7b7b"/><rect x="996" y="495" width="78" height="1" fill="#797979"/><rect x="996" y="496" width="78" height="1" fill="#777777"/><rect x="996" y="497" width="78" height="1" fill="#797979"/><rect x="996" y="498" width="78" height="1" fill="#6c6c6c"/><rect x="1039" y="498" width="11" height="1" fill="#676767"/><rect x="996" y="499" width="78" height="1" fill="#6b6b6b"/><rect x="1006" y="499" width="32" height="1" fill="#646464"/><rect x="996" y="500" width="78" height="1" fill="#696969"/><rect x="996" y="501" width="78" height="1" fill="#6f6f6f"/><rect x="1048" y="501" width="21" height="1" fill="#696969"/><rect x="996" y="502" width="78" height="1" fill="#787878"/><rect x="1042" y="502" width="10" height="1" fill="#6f6f6f"/><rect x="996" y="503" width="78" height="1" fill="#737373"/><rect x="996" y="504" width="78" height="1" fill="#727272"/><rect x="996" y="505" width="78" height="1" fill="#717171"/><rect x="996" y="506" width="78" height="1" fill="#646464"/><rect x="996" y="507" width="78" height="1" fill="#696969"/><rect x="996" y="508" width="78" height="1" fill="#666666"/><rect x="1000" y="508" width="25" height="1" fill="#606060"/><rect x="996" y="509" width="78" height="1" fill="#6a6a6a"/><rect x="1039" y="509" width="26" height="1" fill="#636363"/><rect x="996" y="510" width="78" height="1" fill="#6e6e6e"/><rect x="996" y="511" width="78" height="1" fill="#767676"/><rect x="996" y="512" width="78" height="1" fill="#6e6e6e"/><rect x="996" y="513" width="78" height="1" fill="#6f6f6f"/><rect x="996" y="514" width="78" height="1" fill="#707070"/><rect x="996" y="515" width="78" height="1" fill="#767676"/><rect x="996" y="516" width="78" height="1" fill="#727272"/><rect x="996" y="517" width="78" height="1" fill="#767676"/><rect x="996" y="518" width="78" height="1" fill="#737373"/><rect x="996" y="519" width="78" height="1" fill="#767676"/><rect x="996" y="520" width="78" height="1" fill="#737373"/><rect x="996" y="521" width="78" height="1" fill="#737373"/><rect x="996" y="521" width="57" height="1" fill="#676767"/><rect x="996" y="522" width="78" height="1" fill="#6a6a6a"/><rect x="996" y="523" width="78" height="1" fill="#6c6c6c"/><rect x="1051" y="523" width="15" height="1" fill="#666666"/><rect x="996" y="524" width="78" height="1" fill="#6e6e6e"/><rect x="996" y="525" width="78" height="1" fill="#6c6c6c"/><rect x="997" y="525" width="51" height="1" fill="#606060"/><rect x="996" y="526" width="78" height="1" fill="#6f6f6f"/><rect x="996" y="527" width="78" height="1" fill="#707070"/><rect x="996" y="528" width="78" height="1" fill="#777777"/><rect x="996" y="529" width="78" height="1" fill="#737373"/><rect x="996" y="530" width="78" height="1" fill="#6a6a6a"/><rect x="1044" y="530" width="13" height="1" fill="#5e5e5e"/><rect x="996" y="531" width="78" height="1" fill="#626262"/><rect x="996" y="532" width="78" height="1" fill="#656565"/><rect x="996" y="533" width="78" height="1" fill="#6c6c6c"/><rect x="996" y="534" width="78" height="1" fill="#6e6e6e"/><rect x="996" y="535" width="78" height="1" fill="#787878"/><rect x="1008" y="535" width="17" height="1" fill="#6b6b6b"/><rect x="996" y="536" width="78" height="1" fill="#727272"/><rect x="996" y="537" width="78" height="1" fill="#737373"/><rect x="1034" y="537" width="25" height="1" fill="#6e6e6e"/><rect x="996" y="538" width="78" height="1" fill="#727272"/><rect x="996" y="539" width="78" height="1" fill="#757575"/><rect x="996" y="540" width="78" height="1" fill="#777777"/><rect x="1017" y="540" width="44" height="1" fill="#727272"/><rect x="996" y="541" width="78" height="1" fill="#797979"/><rect x="996" y="542" width="78" height="1" fill="#757575"/><rect x="996" y="543" width="78" height="1" fill="#707070"/><rect x="996" y="544" width="78" height="1" fill="#6d6d6d"/><rect x="996" y="545" width="78" height="1" fill="#686868"/><rect x="1011" y="545" width="61" height="1" fill="#616161"/><rect x="996" y="546" width="78" height="1" fill="#6e6e6e"/><rect x="996" y="547" width="78" height="1" fill="#727272"/><rect x="1012" y="547" width="61" height="1" fill="#6c6c6c"/><rect x="996" y="548" width="78" height="1" fill="#727272"/><rect x="1029" y="548" width="18" height="1" fill="#6b6b6b"/><rect x="996" y="549" width="78" height="1" fill="#727272"/><rect x="996" y="550" width="78" height="1" fill="#6e6e6e"/><rect x="996" y="551" width="78" height="1" fill="#757575"/><rect x="996" y="552" width="78" height="1" fill="#6a6a6a"/><rect x="996" y="553" width="78" height="1" fill="#6f6f6f"/><rect x="996" y="554" width="78" height="1" fill="#585858"/><rect x="1044" y="554" width="21" height="1" fill="#4f4f4f"/><rect x="996" y="555" width="78" height="1" fill="#585858"/><rect x="1038" y="555" width="23" height="1" fill="#4d4d4d"/><rect x="996" y="556" width="78" height="1" fill="#5a5a5a"/><rect x="1003" y="556" width="47" height="1" fill="#505050"/><rect x="996" y="557" width="78" height="1" fill="#6f6f6f"/><rect x="996" y="558" width="78" height="1" fill="#6d6d6d"/><rect x="996" y="559" width="78" height="1" fill="#646464"/><rect x="996" y="560" width="78" height="1" fill="#6a6a6a"/><rect x="996" y="561" width="78" height="1" fill="#696969"/><rect x="996" y="562" width="78" height="1" fill="#696969"/><rect x="996" y="563" width="78" height="1" fill="#646464"/><rect x="1042" y="563" width="19" height="1" fill="#5a5a5a"/><rect x="996" y="564" width="78" height="1" fill="#5d5d5d"/><rect x="1023" y="564" width="26" height="1" fill="#525252"/><rect x="996" y="565" width="78" height="1" fill="#5f5f5f"/><rect x="1000" y="565" width="56" height="1" fill="#585858"/><rect x="996" y="566" width="78" height="1" fill="#696969"/><rect x="1002" y="566" width="71" height="1" fill="#646464"/><rect x="996" y="567" width="78" height="1" fill="#636363"/><rect x="1005" y="567" width="57" height="1" fill="#5f5f5f"/>
<rect x="839" y="48" width="314" height="1" fill="#000" opacity="0.1"/><rect x="839" y="48" width="1" height="520" fill="#878787"/>
<rect x="1083" y="61" width="1" height="1" fill="#999999"/><rect x="1044" y="72" width="1" height="1" fill="#ffffff"/><rect x="1038" y="80" width="2" height="1" fill="#ffffff"/><circle cx="1054.4" cy="81.4" r="1.1" fill="#ffffff" fill-opacity="0.45"/><rect x="1054" y="81" width="1" height="1" fill="#ffffff"/><rect x="1057" y="79" width="1" height="1" fill="#ffffff"/><rect x="1017" y="73" width="1" height="1" fill="#999999"/><rect x="1103" y="89" width="1" height="1" fill="#ffffff"/><rect x="973" y="122" width="1" height="1" fill="#ffffff"/><rect x="980" y="131" width="1" height="2" fill="#ffffff"/><rect x="1007" y="125" width="1" height="1" fill="#999999"/><rect x="1070" y="194" width="1" height="1" fill="#ffffff"/><rect x="986" y="149" width="1" height="1" fill="#999999"/><rect x="1098" y="201" width="1" height="1" fill="#999999"/><rect x="996" y="221" width="1" height="1" fill="#ffffff"/><rect x="1003" y="224" width="1" height="1" fill="#999999"/><rect x="1019" y="252" width="1" height="1" fill="#ffffff"/><rect x="1032" y="252" width="1" height="1" fill="#ffffff"/><rect x="1093" y="260" width="1" height="1" fill="#ffffff"/><rect x="985" y="291" width="1" height="1" fill="#d1d1d1"/><rect x="1077" y="302" width="2" height="1" fill="#ffffff"/><rect x="1067" y="319" width="1" height="1" fill="#999999"/><circle cx="1007.6" cy="353.8" r="1.45" fill="#ffffff" fill-opacity="0.4"/><circle cx="1007.6" cy="353.8" r="1.0" fill="#ffffff"/><circle cx="985" cy="325.4" r="1.1" fill="#999999" fill-opacity="0.45"/><rect x="985" y="325" width="1" height="1" fill="#999999"/><rect x="1001" y="324" width="1" height="1" fill="#999999"/><rect x="981" y="364" width="1" height="1" fill="#999999"/><rect x="991" y="370" width="2" height="1" fill="#ffffff"/><circle cx="987.4" cy="486.4" r="1.1" fill="#ffffff" fill-opacity="0.45"/><rect x="987" y="486" width="1" height="1" fill="#ffffff"/><rect x="1088" y="463" width="1" height="1" fill="#ffffff"/><rect x="1080" y="449" width="1" height="1" fill="#999999"/><rect x="1084" y="499" width="1" height="1" fill="#999999"/><rect x="1057" y="415" width="1" height="1" fill="#999999"/><rect x="1041" y="393" width="1" height="1" fill="#999999"/><rect x="1048" y="385" width="1" height="1" fill="#2e2e2e"/><rect x="995" y="418" width="1" height="1" fill="#2e2e2e"/><circle cx="960" cy="536.4" r="1.45" fill="#ffffff" fill-opacity="0.4"/><circle cx="960" cy="536.4" r="1.0" fill="#ffffff"/><circle cx="984.4" cy="539.4" r="1.1" fill="#ffffff" fill-opacity="0.45"/><rect x="984" y="539" width="1" height="1" fill="#ffffff"/><rect x="967" y="544" width="1" height="1" fill="#d1d1d1"/><rect x="965" y="554" width="1" height="1" fill="#ffffff"/><circle cx="1092.6" cy="531.4" r="1.1" fill="#999999" fill-opacity="0.45"/><rect x="1092" y="531" width="1" height="1" fill="#999999"/><circle cx="925.4" cy="85.4" r="1.1" fill="#ffffff" fill-opacity="0.45"/><rect x="925" y="85" width="1" height="1" fill="#ffffff"/><circle cx="888.4" cy="149.2" r="1.1" fill="#ffffff" fill-opacity="0.45"/><rect x="888" y="149" width="1" height="1" fill="#ffffff"/><rect x="922" y="174" width="1" height="1" fill="#2e2e2e"/><rect x="840" y="132" width="1" height="1" fill="#999999"/><rect x="860" y="225" width="1" height="1" fill="#ffffff"/><circle cx="938.4" cy="230" r="1.1" fill="#999999" fill-opacity="0.45"/><rect x="938" y="230" width="1" height="1" fill="#999999"/><rect x="895" y="251" width="1" height="1" fill="#d1d1d1"/><rect x="915" y="255" width="1" height="1" fill="#d1d1d1"/><circle cx="878.4" cy="252.6" r="1.1" fill="#999999" fill-opacity="0.45"/><rect x="878" y="252" width="1" height="1" fill="#999999"/><circle cx="928.2" cy="265" r="1.1" fill="#d1d1d1" fill-opacity="0.45"/><rect x="928" y="265" width="1" height="1" fill="#d1d1d1"/><circle cx="862.6" cy="278.2" r="1.1" fill="#999999" fill-opacity="0.45"/><rect x="862" y="278" width="1" height="1" fill="#999999"/><rect x="863" y="300" width="1" height="1" fill="#ffffff"/><rect x="866" y="305" width="1" height="1" fill="#ffffff"/><rect x="859" y="322" width="1" height="1" fill="#ffffff"/><rect x="881" y="323" width="1" height="1" fill="#ffffff"/><circle cx="909" cy="337.4" r="1.45" fill="#999999" fill-opacity="0.4"/><circle cx="909" cy="337.4" r="1.0" fill="#999999"/><rect x="875" y="397" width="1" height="1" fill="#ffffff"/><rect x="868" y="453" width="1" height="1" fill="#ffffff"/><rect x="841" y="466" width="1" height="1" fill="#d1d1d1"/><circle cx="866.6" cy="488.4" r="1.1" fill="#d1d1d1" fill-opacity="0.45"/><rect x="866" y="488" width="1" height="1" fill="#d1d1d1"/><rect x="913" y="492" width="1" height="1" fill="#d1d1d1"/><rect x="929" y="412" width="1" height="1" fill="#2e2e2e"/><rect x="871" y="503" width="1" height="1" fill="#999999"/><rect x="843" y="521" width="1" height="1" fill="#d1d1d1"/><rect x="910" y="525" width="1" height="1" fill="#ffffff"/><rect x="931" y="521" width="1" height="1" fill="#d1d1d1"/><rect x="932" y="547" width="1" height="2" fill="#ffffff"/><rect x="1152" y="181" width="1" height="1" fill="#ffffff"/><rect x="1121" y="245" width="1" height="1" fill="#ffffff"/><rect x="1152" y="249" width="1" height="1" fill="#999999"/><rect x="1136" y="369" width="1" height="1" fill="#ffffff"/><circle cx="1125.8" cy="429.9" r="1.45" fill="#ffffff" fill-opacity="0.4"/><circle cx="1125.8" cy="429.9" r="1.0" fill="#ffffff"/><rect x="1113" y="547" width="1" height="1" fill="#d1d1d1"/><rect x="1112" y="414" width="1" height="1" fill="#999999"/><circle cx="1136.8" cy="426" r="1.1" fill="#999999" fill-opacity="0.45"/><rect x="1136" y="426" width="1" height="1" fill="#999999"/><circle cx="1144.8" cy="445.3" r="1.1" fill="#999999" fill-opacity="0.45"/><rect x="1144" y="445" width="1" height="1" fill="#999999"/><rect x="1146" y="554" width="1" height="1" fill="#2e2e2e"/>
<g filter="url(#bl)"><circle cx="1022.8" cy="267" r="2.4" fill="#ffffff"/><circle cx="1109.6" cy="305.4" r="1.9" fill="#ffffff"/><circle cx="1076.6" cy="325.4" r="1.9" fill="#ffffff"/><circle cx="1001.4" cy="473.2" r="3.65" fill="#ffffff"/><circle cx="1111.4" cy="456.4" r="1.65" fill="#ffffff"/><circle cx="985.6" cy="566.5" r="1.65" fill="#d1d1d1"/><circle cx="1008" cy="526.6" r="1.5" fill="#b2b2b2" fill-opacity="0.5"/><circle cx="842.4" cy="187.2" r="1.65" fill="#ffffff"/><circle cx="843.8" cy="191" r="2.15" fill="#ffffff"/><circle cx="914" cy="211.4" r="1.65" fill="#ffffff"/><circle cx="897" cy="238.4" r="2" fill="#b2b2b2" fill-opacity="0.5"/><circle cx="847" cy="326" r="2.15" fill="#ffffff"/><circle cx="932" cy="385.6" r="1.25" fill="#b2b2b2" fill-opacity="0.5"/><circle cx="902.8" cy="521.4" r="1.9" fill="#ffffff"/><circle cx="1141.4" cy="170.4" r="1.9" fill="#ffffff"/><circle cx="1117.4" cy="292" r="1.65" fill="#ffffff"/><circle cx="1136.3" cy="400.4" r="1.65" fill="#ffffff"/><circle cx="1125.3" cy="514.3" r="2.15" fill="#ffffff"/></g>
</g>
<rect x="839" y="568" width="314" height="120" fill="#440154"/>
<rect x="1231" y="48" width="314" height="640" fill="#482475"/>
<rect x="55.55" y="688.5" width="313" height="12.85" fill="url(#vg)" stroke="#000" stroke-width="1.1"/>
<line x1="86.85" y1="701.35" x2="86.85" y2="694.15" stroke="#000" stroke-width="1.15"/><text class="tk" x="86.85" y="716.8">-4</text>
<line x1="212.05" y1="701.35" x2="212.05" y2="694.15" stroke="#000" stroke-width="1.15"/><text class="tk" x="212.05" y="716.8">0</text>
<line x1="337.25" y1="701.35" x2="337.25" y2="694.15" stroke="#000" stroke-width="1.15"/><text class="tk" x="337.25" y="716.8">4</text>
<text class="un" x="356.6" y="716.8">ADU</text>
<text class="ti" x="211.7" y="38">2023-09-15 UT</text>
<text class="ch" x="93.75" y="373">Ch4</text><text class="ch" x="172.25" y="373">Ch3</text><text class="ch" x="250.75" y="373">Ch2</text><text class="ch" x="329.25" y="373">Ch1</text>
<text class="l1" x="212" y="757.8">HSCA32003734</text>
<text class="l2" x="212" y="782.5">( bias004 )</text>
<rect x="447.55" y="688.5" width="313" height="12.85" fill="url(#vg)" stroke="#000" stroke-width="1.1"/>
<line x1="478.85" y1="701.35" x2="478.85" y2="694.15" stroke="#000" stroke-width="1.15"/><text class="tk" x="478.85" y="716.8">0</text>
<line x1="604.05" y1="701.35" x2="604.05" y2="694.15" stroke="#000" stroke-width="1.15"/><text class="tk" x="604.05" y="716.8">200</text>
<line x1="729.25" y1="701.35" x2="729.25" y2="694.15" stroke="#000" stroke-width="1.15"/><text class="tk" x="729.25" y="716.8">400</text>
<text class="un" x="748.6" y="716.8">ADU</text>
<text class="ti" x="603.7" y="38">2023-09-15 UT</text>
<text class="ch" x="485.75" y="373">Ch4</text><text class="ch" x="564.25" y="373">Ch3</text><text class="ch" x="642.75" y="373">Ch2</text><text class="ch" x="721.25" y="373">Ch1</text>
<text class="l1" x="604" y="757.8">HSCA32005134</text>
<text class="l2" x="604" y="782.5">( object011 )</text>
<rect x="839.55" y="688.5" width="313" height="12.85" fill="url(#vg)" stroke="#000" stroke-width="1.1"/>
<line x1="870.85" y1="701.35" x2="870.85" y2="694.15" stroke="#000" stroke-width="1.15"/><text class="tk" x="870.85" y="716.8">0</text>
<line x1="996.05" y1="701.35" x2="996.05" y2="694.15" stroke="#000" stroke-width="1.15"/><text class="tk" x="996.05" y="716.8">200</text>
<line x1="1121.25" y1="701.35" x2="1121.25" y2="694.15" stroke="#000" stroke-width="1.15"/><text class="tk" x="1121.25" y="716.8">400</text>
<text class="un" x="1140.6" y="716.8">ADU</text>
<text class="ti" x="995.7" y="38">2023-09-15 UT</text>
<text class="ch" x="877.75" y="373">Ch4</text><text class="ch" x="956.25" y="373">Ch3</text><text class="ch" x="1034.75" y="373">Ch2</text><text class="ch" x="1113.25" y="373">Ch1</text>
<text class="l1" x="996" y="757.8">HSCA32005334</text>
<text class="l2" x="996" y="782.5">( object012 )</text>
<rect x="1231.55" y="688.5" width="313" height="12.85" fill="url(#vg)" stroke="#000" stroke-width="1.1"/>
<line x1="1262.85" y1="701.35" x2="1262.85" y2="694.15" stroke="#000" stroke-width="1.15"/><text class="tk" x="1262.85" y="716.8">0</text>
<line x1="1388.05" y1="701.35" x2="1388.05" y2="694.15" stroke="#000" stroke-width="1.15"/><text class="tk" x="1388.05" y="716.8">1</text>
<line x1="1513.25" y1="701.35" x2="1513.25" y2="694.15" stroke="#000" stroke-width="1.15"/><text class="tk" x="1513.25" y="716.8">2</text>
<text class="un" x="1532.6" y="716.8">ADU</text>
<text class="ti" x="1387.7" y="38">2023-09-15 UT</text>
<text class="ch" x="1269.75" y="373">Ch4</text><text class="ch" x="1348.25" y="373">Ch3</text><text class="ch" x="1426.75" y="373">Ch2</text><text class="ch" x="1505.25" y="373">Ch1</text>
<text class="l1" x="1388" y="757.8">HSCA32005534</text>
<text class="l2" x="1388" y="782.5">( object013 )</text>
</svg>
</body></html>
